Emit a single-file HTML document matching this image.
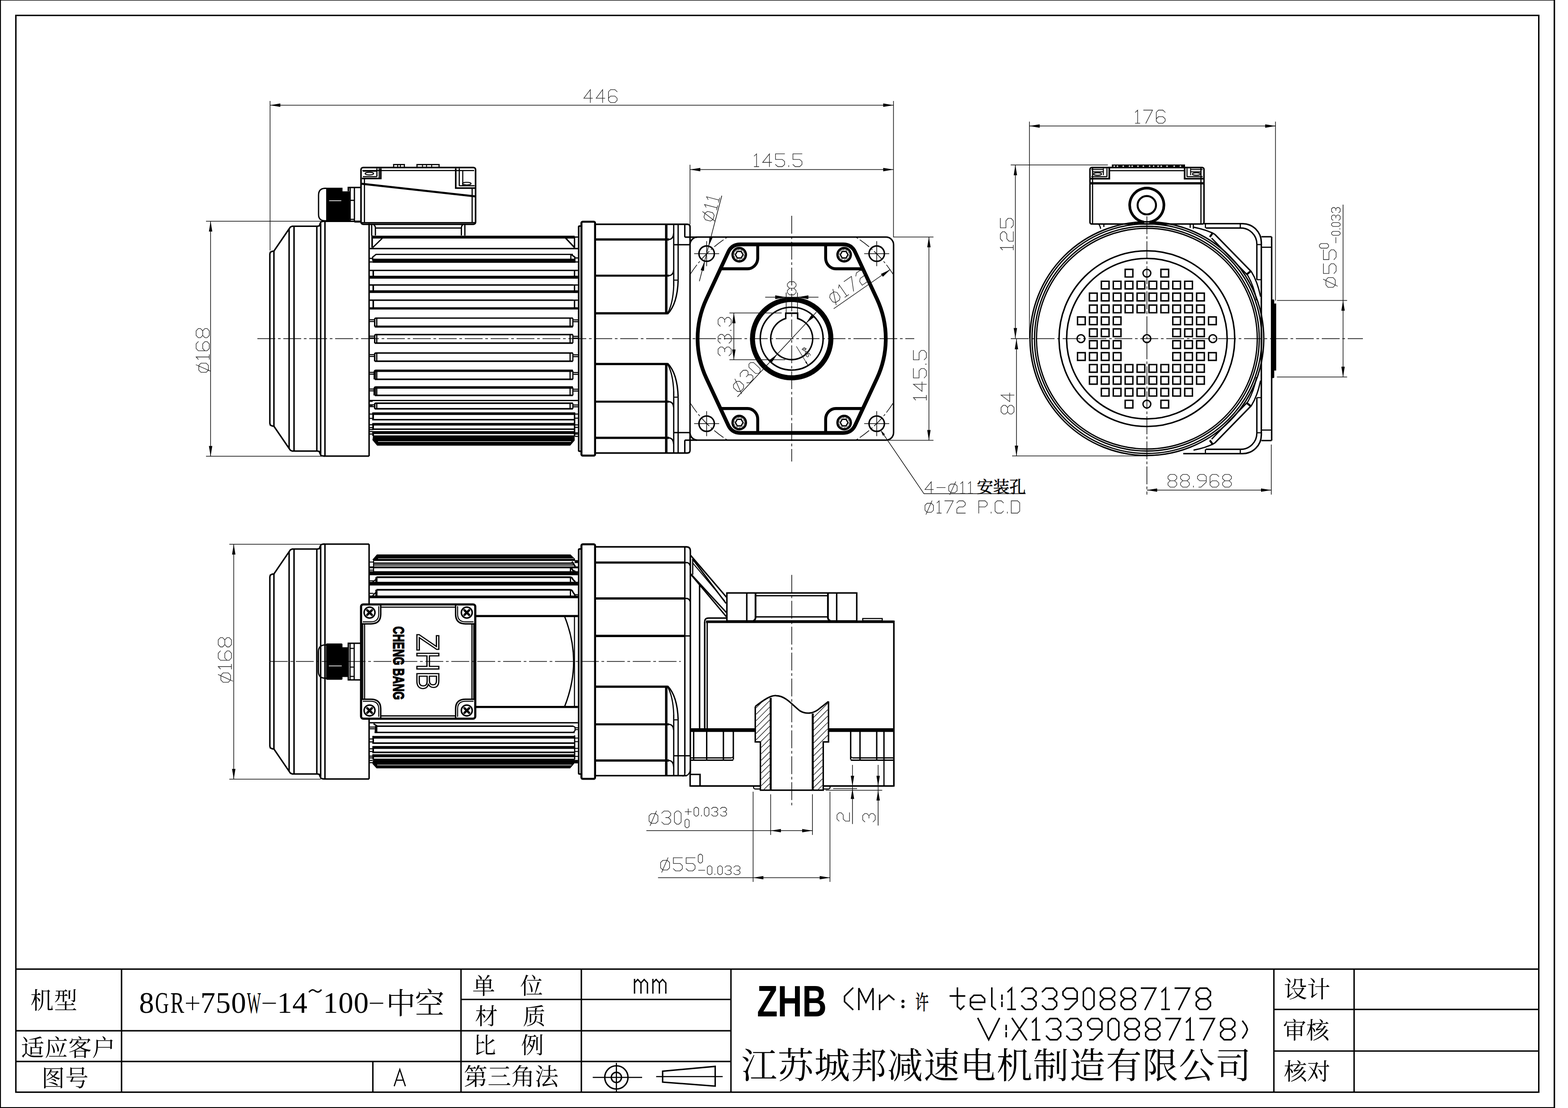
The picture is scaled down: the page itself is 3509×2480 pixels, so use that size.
<!DOCTYPE html><html><head><meta charset="utf-8"><title>drawing</title><style>html,body{margin:0;padding:0;background:#fff}svg{display:block}</style></head><body><svg width="3509" height="2480" viewBox="0 0 3509 2480" fill="none"><rect width="3509" height="2480" fill="#fff"/>
<path d="M1.0 0.0L1.0 2480.0" stroke="#000" stroke-width="2.2" />
<path d="M0.0 0.6L3480.0 0.6" stroke="#000" stroke-width="1.4" />
<path d="M3478.5 0.0L3478.5 2480.0" stroke="#000" stroke-width="3.3" />
<path d="M0.0 2479.0L3480.0 2479.0" stroke="#000" stroke-width="2.2" />
<rect x="35.5" y="34.5" width="3408.1" height="2410.1" rx="0" stroke="#000" stroke-width="3.19" fill="none" />
<path d="M35.5 2169.2L3443.6 2169.2" stroke="#000" stroke-width="3.19" />
<path d="M35.5 2307.2L1635.8 2307.2" stroke="#000" stroke-width="3.19" />
<path d="M35.5 2375.8L1635.8 2375.8" stroke="#000" stroke-width="3.19" />
<path d="M1031.7 2237.0L1635.8 2237.0" stroke="#000" stroke-width="3.19" />
<path d="M2850.8 2259.4L3443.6 2259.4" stroke="#000" stroke-width="3.19" />
<path d="M2850.8 2352.5L3443.6 2352.5" stroke="#000" stroke-width="3.19" />
<path d="M272.0 2169.2L272.0 2444.6" stroke="#000" stroke-width="3.19" />
<path d="M834.4 2375.8L834.4 2444.6" stroke="#000" stroke-width="3.19" />
<path d="M1031.7 2169.2L1031.7 2444.6" stroke="#000" stroke-width="3.19" />
<path d="M1301.0 2169.2L1301.0 2444.6" stroke="#000" stroke-width="3.19" />
<path d="M1635.8 2169.2L1635.8 2444.6" stroke="#000" stroke-width="3.19" />
<path d="M2850.8 2169.2L2850.8 2444.6" stroke="#000" stroke-width="3.19" />
<path d="M3030.3 2169.2L3030.3 2444.6" stroke="#000" stroke-width="3.19" />
<text fill="#000" x="68" y="2258.1" font-size="52" letter-spacing="1" font-family="Liberation Serif,Noto Serif CJK SC,serif">机型</text>
<text fill="#000" x="47" y="2364.1" font-size="52" letter-spacing="1" font-family="Liberation Serif,Noto Serif CJK SC,serif">适应客户</text>
<text fill="#000" x="93" y="2432.1" font-size="52" letter-spacing="1" font-family="Liberation Serif,Noto Serif CJK SC,serif">图号</text>
<text fill="#000" x="1057" y="2225.2" font-size="51" font-family="Liberation Serif,Noto Serif CJK SC,serif">单</text>
<text fill="#000" x="1164" y="2225.2" font-size="51" font-family="Liberation Serif,Noto Serif CJK SC,serif">位</text>
<text fill="#000" x="1063" y="2293.2" font-size="51" font-family="Liberation Serif,Noto Serif CJK SC,serif">材</text>
<text fill="#000" x="1170" y="2293.2" font-size="51" font-family="Liberation Serif,Noto Serif CJK SC,serif">质</text>
<text fill="#000" x="1059" y="2358.2" font-size="51" font-family="Liberation Serif,Noto Serif CJK SC,serif">比</text>
<text fill="#000" x="1166" y="2358.2" font-size="51" font-family="Liberation Serif,Noto Serif CJK SC,serif">例</text>
<text fill="#000" x="1038" y="2429" font-size="53" font-family="Liberation Serif,Noto Serif CJK SC,serif">第三角法</text>
<text fill="#000" x="2873" y="2233.1" font-size="52" font-family="Liberation Serif,Noto Serif CJK SC,serif">设计</text>
<text fill="#000" x="2871" y="2325.1" font-size="52" font-family="Liberation Serif,Noto Serif CJK SC,serif">审核</text>
<text fill="#000" x="2873" y="2417.1" font-size="52" font-family="Liberation Serif,Noto Serif CJK SC,serif">核对</text>
<text fill="#000" x="864" y="2269.1" font-size="66" letter-spacing="-1.5" font-family="Liberation Serif,Noto Serif CJK SC,serif">中空</text>
<text fill="#000" x="1659" y="2413" font-size="80" letter-spacing="1.6" font-family="Liberation Serif,Noto Serif CJK SC,serif">江苏城邦减速电机制造有限公司</text>
<text fill="#000" x="328.1" y="2266.5" font-size="67" text-anchor="middle" font-family="Liberation Serif,serif">8</text>
<text fill="#000" x="362.4" y="2266.5" font-size="67" text-anchor="middle" font-family="Liberation Serif,serif" textLength="31" lengthAdjust="spacingAndGlyphs">G</text>
<text fill="#000" x="396.8" y="2266.5" font-size="67" text-anchor="middle" font-family="Liberation Serif,serif" textLength="31" lengthAdjust="spacingAndGlyphs">R</text>
<path d="M416.0 2245.5L446.0 2245.5" stroke="#000" stroke-width="2.42" />
<path d="M431.0 2230.0L431.0 2261.0" stroke="#000" stroke-width="2.42" />
<text fill="#000" x="465.3" y="2266.5" font-size="67" text-anchor="middle" font-family="Liberation Serif,serif">7</text>
<text fill="#000" x="499.6" y="2266.5" font-size="67" text-anchor="middle" font-family="Liberation Serif,serif">5</text>
<text fill="#000" x="533.9" y="2266.5" font-size="67" text-anchor="middle" font-family="Liberation Serif,serif">0</text>
<text fill="#000" x="568.2" y="2266.5" font-size="67" text-anchor="middle" font-family="Liberation Serif,serif" textLength="31" lengthAdjust="spacingAndGlyphs">W</text>
<path d="M587.5 2245.5L617.5 2245.5" stroke="#000" stroke-width="2.42" />
<text fill="#000" x="636.9" y="2266.5" font-size="67" text-anchor="middle" font-family="Liberation Serif,serif">1</text>
<text fill="#000" x="671.1" y="2266.5" font-size="67" text-anchor="middle" font-family="Liberation Serif,serif">4</text>
<path d="M691.4 2221 q7 -9 14 -3 t14 -3" stroke="#000" stroke-width="3.2" fill="none"/>
<text fill="#000" x="739.7" y="2266.5" font-size="67" text-anchor="middle" font-family="Liberation Serif,serif">1</text>
<text fill="#000" x="774.0" y="2266.5" font-size="67" text-anchor="middle" font-family="Liberation Serif,serif">0</text>
<text fill="#000" x="808.3" y="2266.5" font-size="67" text-anchor="middle" font-family="Liberation Serif,serif">0</text>
<path d="M827.6 2245.5L857.6 2245.5" stroke="#000" stroke-width="2.42" />
<text fill="#000" x="1694" y="2274.5" font-size="99" font-weight="bold" font-family="Liberation Sans,sans-serif" textLength="156" lengthAdjust="spacingAndGlyphs">ZHB</text>
<path transform="translate(882.5 2430.0)" d="M0.0 0.0L12.2 -36.5L24.3 0.0M4.3 -12.2L20.1 -12.2" stroke="#000" stroke-width="2.6" fill="none" stroke-linecap="square" stroke-linejoin="miter"/>
<path transform="translate(1420.0 2222.5)" d="M0.0 0.0L0.0 -30.0M0.0 -22.5L7.2 -30.0L14.4 -22.5L14.4 0.0M14.4 -22.5L21.6 -30.0L28.9 -22.5L28.9 0.0M41.1 0.0L41.1 -30.0M41.1 -22.5L48.4 -30.0L55.6 -22.5L55.6 0.0M55.6 -22.5L62.8 -30.0L70.0 -22.5L70.0 0.0" stroke="#000" stroke-width="3" fill="none" stroke-linecap="square" stroke-linejoin="miter"/>
<path transform="translate(0 2259.3)" d="M1908.2 -47.5L1890.0 -29.3L1890.0 -17.4L1908.2 0.0M1922.0 0.0L1922.0 -47.5L1937.8 -15.8L1953.7 -47.5L1953.7 0.0M1968.5 0.0L1968.5 -31.7M1968.5 -13.5L1989.1 -31.7L2000.2 -22.2M2142.6 -47.5L2142.6 -6.3L2149.8 0.0L2156.9 -7.1M2126.8 -30.1L2158.5 -30.1M2171.8 -15.8L2203.5 -15.8L2203.5 -23.8L2195.6 -31.7L2179.7 -31.7L2171.8 -23.8L2171.8 -7.9L2179.7 0.0L2197.1 0.0M2219.6 -47.5L2219.6 -7.1L2227.5 0.0M2242.2 -7.1L2242.2 -15.8M2242.2 -23.0L2242.2 -31.7M2255.9 -39.6L2263.8 -47.5L2263.8 0.0M2255.9 0.0L2271.7 0.0M2286.8 -39.6L2294.7 -47.5L2310.6 -47.5L2318.5 -39.6L2318.5 -31.7L2310.6 -23.8L2318.5 -15.8L2318.5 -7.9L2310.6 0.0L2294.7 0.0L2286.8 -7.9M2301.1 -23.8L2310.6 -23.8M2333.0 -39.6L2340.9 -47.5L2356.8 -47.5L2364.7 -39.6L2364.7 -31.7L2356.8 -23.8L2364.7 -15.8L2364.7 -7.9L2356.8 0.0L2340.9 0.0L2333.0 -7.9M2347.2 -23.8L2356.8 -23.8M2383.6 0.0L2391.5 0.0L2410.5 -19.0L2410.5 -39.6L2402.6 -47.5L2386.7 -47.5L2378.8 -39.6L2378.8 -31.7L2386.7 -23.8L2410.5 -23.8M2432.4 0.0L2440.3 0.0L2448.2 -7.9L2448.2 -39.6L2440.3 -47.5L2432.4 -47.5L2424.5 -39.6L2424.5 -7.9L2432.4 0.0M2470.5 -23.8L2462.6 -31.7L2462.6 -39.6L2470.5 -47.5L2486.3 -47.5L2494.3 -39.6L2494.3 -31.7L2486.3 -23.8L2470.5 -23.8L2462.6 -15.8L2462.6 -7.9L2470.5 0.0L2486.3 0.0L2494.3 -7.9L2494.3 -15.8L2486.3 -23.8M2516.9 -23.8L2509.0 -31.7L2509.0 -39.6L2516.9 -47.5L2532.8 -47.5L2540.7 -39.6L2540.7 -31.7L2532.8 -23.8L2516.9 -23.8L2509.0 -15.8L2509.0 -7.9L2516.9 0.0L2532.8 0.0L2540.7 -7.9L2540.7 -15.8L2532.8 -23.8M2554.8 -47.5L2586.5 -47.5L2562.7 0.0M2600.5 -39.6L2608.4 -47.5L2608.4 0.0M2600.5 0.0L2616.3 0.0M2630.3 -47.5L2662.0 -47.5L2638.2 0.0M2685.0 -23.8L2677.1 -31.7L2677.1 -39.6L2685.0 -47.5L2700.8 -47.5L2708.8 -39.6L2708.8 -31.7L2700.8 -23.8L2685.0 -23.8L2677.1 -15.8L2677.1 -7.9L2685.0 0.0L2700.8 0.0L2708.8 -7.9L2708.8 -15.8L2700.8 -23.8" stroke="#000" stroke-width="3.4" fill="none" stroke-linecap="square"/>
<circle cx="2020.7" cy="2241.2" r="3.4" stroke="#000" stroke-width="0" fill="#000" />
<circle cx="2020.7" cy="2253.2" r="3.4" stroke="#000" stroke-width="0" fill="#000" />
<text transform="translate(2048.5 2260.0) scale(0.66 1)" x="0" y="0" font-size="45" fill="#000" stroke="#000" stroke-width="0.8" font-family="Liberation Serif,Noto Serif CJK SC,serif">许</text>
<path transform="translate(0 2327.2)" d="M2188.8 -47.5L2212.6 0.0L2236.3 -47.5M2251.7 -7.1L2251.7 -15.8M2251.7 -23.0L2251.7 -31.7M2265.5 0.0L2297.2 -47.5M2265.5 -47.5L2297.2 0.0M2310.8 -39.6L2318.7 -47.5L2318.7 0.0M2310.8 0.0L2326.6 0.0M2342.0 -39.6L2349.9 -47.5L2365.8 -47.5L2373.7 -39.6L2373.7 -31.7L2365.8 -23.8L2373.7 -15.8L2373.7 -7.9L2365.8 0.0L2349.9 0.0L2342.0 -7.9M2356.2 -23.8L2365.8 -23.8M2387.5 -39.6L2395.4 -47.5L2411.2 -47.5L2419.2 -39.6L2419.2 -31.7L2411.2 -23.8L2419.2 -15.8L2419.2 -7.9L2411.2 0.0L2395.4 0.0L2387.5 -7.9M2401.8 -23.8L2411.2 -23.8M2439.1 0.0L2447.0 0.0L2466.0 -19.0L2466.0 -39.6L2458.1 -47.5L2442.2 -47.5L2434.3 -39.6L2434.3 -31.7L2442.2 -23.8L2466.0 -23.8M2487.9 0.0L2495.8 0.0L2503.8 -7.9L2503.8 -39.6L2495.8 -47.5L2487.9 -47.5L2480.0 -39.6L2480.0 -7.9L2487.9 0.0M2525.6 -23.8L2517.7 -31.7L2517.7 -39.6L2525.6 -47.5L2541.4 -47.5L2549.4 -39.6L2549.4 -31.7L2541.4 -23.8L2525.6 -23.8L2517.7 -15.8L2517.7 -7.9L2525.6 0.0L2541.4 0.0L2549.4 -7.9L2549.4 -15.8L2541.4 -23.8M2571.8 -23.8L2563.9 -31.7L2563.9 -39.6L2571.8 -47.5L2587.7 -47.5L2595.6 -39.6L2595.6 -31.7L2587.7 -23.8L2571.8 -23.8L2563.9 -15.8L2563.9 -7.9L2571.8 0.0L2587.7 0.0L2595.6 -7.9L2595.6 -15.8L2587.7 -23.8M2609.6 -47.5L2641.3 -47.5L2617.5 0.0M2655.4 -39.6L2663.3 -47.5L2663.3 0.0M2655.4 0.0L2671.2 0.0M2685.9 -47.5L2717.6 -47.5L2693.8 0.0M2739.5 -23.8L2731.6 -31.7L2731.6 -39.6L2739.5 -47.5L2755.3 -47.5L2763.3 -39.6L2763.3 -31.7L2755.3 -23.8L2739.5 -23.8L2731.6 -15.8L2731.6 -7.9L2739.5 0.0L2755.3 0.0L2763.3 -7.9L2763.3 -15.8L2755.3 -23.8M2781.2 -41.2L2788.3 -31.7L2791.5 -23.0L2788.3 -14.2L2781.2 -4.0" stroke="#000" stroke-width="3.4" fill="none" stroke-linecap="square"/>
<circle cx="1379.4" cy="2411.5" r="26.0" stroke="#000" stroke-width="3.19" fill="none" />
<circle cx="1379.4" cy="2411.5" r="11.4" stroke="#000" stroke-width="3.19" fill="none" />
<path d="M1326.5 2411.5L1437.0 2411.5" stroke="#000" stroke-width="2.64" />
<path d="M1379.4 2379.0L1379.4 2444.0" stroke="#000" stroke-width="2.64" />
<path d="M1482.9 2397.7L1600.5 2386.8L1600.5 2431.0L1482.9 2422.0Z" stroke="#000" stroke-width="3.19" fill="none" />
<path d="M1468.4 2409.8L1617.3 2409.8" stroke="#000" stroke-width="2.42" />
<path d="M603.9 758.0L603.9 568.5L605.0 564.5L609.0 562.6L613.0 562.0L647.5 511.5L650.0 508.0L654.0 506.3L710.3 506.3L714.5 505.5L716.5 500.0L718.5 496.5L722.5 495.3L727.2 495.3" stroke="#000" stroke-width="3.3" fill="none" />
<path d="M727.2 1020.7L722.5 1020.7L718.5 1019.5L716.5 1016.0L714.5 1010.5L710.3 1009.7L654.0 1009.7L650.0 1008.0L647.5 1004.5L613.0 954.0L609.0 953.4L605.0 951.5L603.9 947.5L603.9 758.0" stroke="#000" stroke-width="3.3" fill="none" />
<path d="M613.0 562.0L613.0 954.0" stroke="#000" stroke-width="3.3" />
<path d="M647.0 513.0L647.0 1003.0" stroke="#000" stroke-width="3.3" />
<path d="M658.0 506.3L658.0 1009.7" stroke="#000" stroke-width="3.3" />
<path d="M709.0 506.3L709.0 1009.7" stroke="#000" stroke-width="3.3" />
<path d="M717.6 499.0L717.6 1017.0" stroke="#000" stroke-width="3.3" />
<path d="M727.2 495.3L727.2 1020.7" stroke="#000" stroke-width="3.3" />
<path d="M727.2 495.4L809.0 495.4" stroke="#000" stroke-width="3.3" />
<path d="M724.0 1020.9L826.0 1020.9" stroke="#000" stroke-width="3.3" />
<path d="M826.0 500.0L826.0 1021.0" stroke="#000" stroke-width="3.3" />
<path d="M730 421.5L727 421.5Q712.9 422 712.9 437L712.9 480Q712.9 494 727 494.3L730 494.3" stroke="#000" stroke-width="2.86" fill="none" />
<rect x="729.9" y="420.2" width="36.6" height="74.8" rx="0" stroke="#000" stroke-width="0" fill="#000" />
<rect x="766.0" y="428.3" width="16.5" height="66.6" rx="0" stroke="#000" stroke-width="0" fill="#000" />
<path d="M736.5 449.3L763.8 449.3" stroke="#fff" stroke-width="1.6" />
<path d="M779.5 428.0L779.5 419.7L808.0 419.7" stroke="#000" stroke-width="3.3" fill="none" />
<path d="M783.6 419.7L783.6 494.0" stroke="#000" stroke-width="2.86" />
<path d="M793.1 419.7L793.1 497.0" stroke="#000" stroke-width="2.86" />
<path d="M783.6 448.4L793.1 448.4" stroke="#000" stroke-width="2.64" />
<path d="M783.6 491.0L793.1 491.0" stroke="#000" stroke-width="2.64" />
<path d="M793.1 496.8L808.0 496.8" stroke="#000" stroke-width="2.86" />
<rect x="807.9" y="374.9" width="256.4" height="127.1" rx="5" stroke="#000" stroke-width="3.52" fill="none" />
<path d="M811.0 381.8L1061.0 381.8" stroke="#000" stroke-width="2.64" />
<path d="M815.6 399.0L815.6 498.6" stroke="#000" stroke-width="2.64" />
<path d="M1056.6 421.0L1056.6 498.6" stroke="#000" stroke-width="2.64" />
<path d="M809.0 498.4L1063.0 498.4" stroke="#000" stroke-width="2.86" />
<rect x="880.9" y="368.3" width="24.0" height="6.5" rx="0" stroke="#000" stroke-width="2.64" fill="none" />
<path d="M890.0 368.3L890.0 374.8" stroke="#000" stroke-width="2.2" />
<path d="M896.0 368.3L896.0 374.8" stroke="#000" stroke-width="2.2" />
<rect x="933.2" y="368.3" width="49.4" height="6.5" rx="0" stroke="#000" stroke-width="2.64" fill="none" />
<path d="M945.5 368.3L945.5 374.8" stroke="#000" stroke-width="2.2" />
<path d="M954.5 368.3L954.5 374.8" stroke="#000" stroke-width="2.2" />
<path d="M966.0 368.3L966.0 374.8" stroke="#000" stroke-width="2.2" />
<path d="M809.0 411.3L1063.0 439.5" stroke="#000" stroke-width="4.62" />
<path d="M852.2 377.0L852.2 399.6L810.0 399.6" stroke="#000" stroke-width="3.52" fill="none" />
<path d="M843.5 377.0L843.5 395.4" stroke="#000" stroke-width="2.64" />
<path d="M848.6 377.0L848.6 399.0" stroke="#000" stroke-width="2.42" />
<path d="M812.0 395.4L843.5 395.4" stroke="#000" stroke-width="2.42" />
<path d="M812.0 383.3L843.5 383.3" stroke="#000" stroke-width="2.2" />
<ellipse cx="826.6" cy="388.6" rx="9.5" ry="3" fill="none" stroke="#000" stroke-width="2.2"/>
<path d="M1019.9 377.0L1019.9 421.0L1063.0 421.0" stroke="#000" stroke-width="3.52" fill="none" />
<path d="M1027.8 377.0L1027.8 416.0" stroke="#000" stroke-width="2.64" />
<path d="M1035.6 382.0L1035.6 416.0" stroke="#000" stroke-width="2.42" />
<path d="M1027.8 415.8L1062.0 415.8" stroke="#000" stroke-width="2.42" />
<ellipse cx="1044.7" cy="411" rx="9.5" ry="3" fill="none" stroke="#000" stroke-width="2.2"/>
<path d="M831.8 502L831.8 527.6M1040.3 502L1040.3 527.6M836 503Q840 505 840.1 510L840.1 527M1036 503Q1032.6 505 1032.5 510L1032.5 527M840 510.4L1032.5 510.4" stroke="#000" stroke-width="2.86" fill="none" />
<rect x="831.8" y="527.6" width="454.2" height="6.3" rx="0" stroke="#000" stroke-width="0" fill="#000" />
<path d="M832.8 527.0L832.8 554.5" stroke="#000" stroke-width="3.52" />
<path d="M834.0 554.3L855.3 533.4" stroke="#000" stroke-width="2.86" />
<path d="M1265.9 533.0L1286.0 554.3" stroke="#000" stroke-width="3.3" />
<path d="M1285.7 530.0L1285.7 556.4" stroke="#000" stroke-width="3.08" />
<path d="M1285.0 530.6L1293.5 530.6" stroke="#000" stroke-width="2.86" />
<path d="M826.0 556.4L1294.0 556.4" stroke="#000" stroke-width="3.08" />
<path d="M1282.0 569.4L841.5 569.4L834.0 575.4L834.0 583.7" stroke="#000" stroke-width="2.86" fill="none" />
<path d="M834.0 583.7L1282.0 583.7" stroke="#000" stroke-width="9.2" />
<path d="M827.0 578.3L834.0 578.3" stroke="#000" stroke-width="2.64" />
<path d="M827.0 586.3L834.0 586.3" stroke="#000" stroke-width="2.64" />
<path d="M827.0 605.2L1282.0 605.2" stroke="#000" stroke-width="3.08" />
<path d="M827.0 620.5L1282.0 620.5" stroke="#000" stroke-width="6.6" />
<path d="M835.3 605.2L835.3 620.5" stroke="#000" stroke-width="3.52" />
<path d="M827.0 637.9L1282.0 637.9" stroke="#000" stroke-width="3.08" />
<path d="M827.0 652.8L1282.0 652.8" stroke="#000" stroke-width="6.05" />
<path d="M835.3 637.9L835.3 652.8" stroke="#000" stroke-width="3.52" />
<path d="M827.0 671.9L1282.0 671.9" stroke="#000" stroke-width="3.08" />
<path d="M827.0 690.2L1282.0 690.2" stroke="#000" stroke-width="4.95" />
<path d="M835.3 671.9L835.3 690.2" stroke="#000" stroke-width="3.52" />
<path d="M1282 712L841.5 712Q838.5 712 838.5 715L838.5 731" stroke="#000" stroke-width="3.08" fill="none" />
<path d="M838.5 731.0L1282.0 731.0" stroke="#000" stroke-width="4.62" />
<path d="M843.1 712.0L843.1 731.0" stroke="#000" stroke-width="2.86" />
<path d="M827.0 715.6L838.5 715.6" stroke="#000" stroke-width="2.42" />
<path d="M827.0 719.6L838.5 719.6" stroke="#000" stroke-width="2.42" />
<path d="M1282 748.9L841.5 748.9Q838.5 748.9 838.5 751.9L838.5 767.9" stroke="#000" stroke-width="3.08" fill="none" />
<path d="M838.5 767.9L1282.0 767.9" stroke="#000" stroke-width="3.52" />
<path d="M843.1 748.9L843.1 767.9" stroke="#000" stroke-width="2.86" />
<path d="M827.0 752.5L838.5 752.5" stroke="#000" stroke-width="2.42" />
<path d="M827.0 756.5L838.5 756.5" stroke="#000" stroke-width="2.42" />
<path d="M1282 790.2L841.5 790.2Q838.5 790.2 838.5 793.2L838.5 808.4" stroke="#000" stroke-width="3.3" fill="none" />
<path d="M838.5 808.4L1282.0 808.4" stroke="#000" stroke-width="3.52" />
<path d="M843.1 790.2L843.1 808.4" stroke="#000" stroke-width="2.86" />
<path d="M827.0 793.8L838.5 793.8" stroke="#000" stroke-width="2.42" />
<path d="M827.0 797.8L838.5 797.8" stroke="#000" stroke-width="2.42" />
<path d="M1282 829.9L841.5 829.9Q838.5 829.9 838.5 832.9L838.5 849" stroke="#000" stroke-width="5.06" fill="none" />
<path d="M838.5 849.0L1282.0 849.0" stroke="#000" stroke-width="3.52" />
<path d="M843.1 829.9L843.1 849.0" stroke="#000" stroke-width="2.86" />
<path d="M827.0 833.5L838.5 833.5" stroke="#000" stroke-width="2.42" />
<path d="M827.0 837.5L838.5 837.5" stroke="#000" stroke-width="2.42" />
<path d="M1282 867.2L841.5 867.2Q838.5 867.2 838.5 870.2L838.5 885" stroke="#000" stroke-width="5.5" fill="none" />
<path d="M838.5 885.0L1282.0 885.0" stroke="#000" stroke-width="3.52" />
<path d="M843.1 867.2L843.1 885.0" stroke="#000" stroke-width="2.86" />
<path d="M827.0 870.8L838.5 870.8" stroke="#000" stroke-width="2.42" />
<path d="M827.0 874.8L838.5 874.8" stroke="#000" stroke-width="2.42" />
<path d="M1282 902.5L841.5 902.5Q838.5 902.5 838.5 905.5L838.5 915" stroke="#000" stroke-width="3.3" fill="none" />
<path d="M838.5 915.0L1282.0 915.0" stroke="#000" stroke-width="3.52" />
<path d="M843.1 902.5L843.1 915.0" stroke="#000" stroke-width="2.86" />
<path d="M827.0 906.1L838.5 906.1" stroke="#000" stroke-width="2.42" />
<path d="M827.0 910.1L838.5 910.1" stroke="#000" stroke-width="2.42" />
<path d="M826.0 896.4L1293.5 896.4" stroke="#000" stroke-width="2.75" />
<path d="M833.4 925.8L1286.0 925.8" stroke="#000" stroke-width="5.83" />
<path d="M833.4 939.4L1286.0 939.4" stroke="#000" stroke-width="3.19" />
<path d="M833.4 949.7L1286.0 949.7" stroke="#000" stroke-width="5.83" />
<path d="M833.4 960.7L1286.0 960.7" stroke="#000" stroke-width="3.19" />
<path d="M833.4 968.2L1286.0 968.2" stroke="#000" stroke-width="6.49" />
<path d="M835.0 974.4L1286.0 974.4L1286.0 986.0L1276.0 997.6L844.0 997.6L833.4 985.0Z" stroke="#000" stroke-width="0" fill="#000" />
<path d="M846.0 988.3L1278.0 988.3" stroke="#fff" stroke-width="1.3" />
<path d="M1278.0 569.4L1286.3 575.4L1286.3 587.7" stroke="#000" stroke-width="3.08" fill="none" />
<path d="M1277.5 569.4L1277.5 580.7" stroke="#000" stroke-width="2.64" />
<path d="M1282.0 583.7L1287.5 583.7" stroke="#000" stroke-width="9.2" />
<path d="M1286.0 577.4L1293.5 577.4" stroke="#000" stroke-width="2.64" />
<path d="M1286.0 586.3L1293.5 586.3" stroke="#000" stroke-width="2.64" />
<path d="M1285.7 605.2L1285.7 620.5" stroke="#000" stroke-width="3.08" />
<path d="M1282.0 605.2L1293.0 605.2" stroke="#000" stroke-width="2.86" />
<path d="M1282.0 620.5L1293.0 620.5" stroke="#000" stroke-width="6.6" />
<path d="M1285.7 637.9L1285.7 652.8" stroke="#000" stroke-width="3.08" />
<path d="M1282.0 637.9L1293.0 637.9" stroke="#000" stroke-width="2.86" />
<path d="M1282.0 652.8L1293.0 652.8" stroke="#000" stroke-width="6.05" />
<path d="M1285.7 671.9L1285.7 690.2" stroke="#000" stroke-width="3.08" />
<path d="M1282.0 671.9L1293.0 671.9" stroke="#000" stroke-width="2.86" />
<path d="M1282.0 690.2L1293.0 690.2" stroke="#000" stroke-width="4.95" />
<path d="M1275.8 712.0L1275.8 731.0" stroke="#000" stroke-width="2.64" />
<path d="M1282.0 712.0L1282.0 731.0" stroke="#000" stroke-width="2.64" />
<path d="M1282.0 716.0L1294.0 716.0" stroke="#000" stroke-width="2.42" />
<path d="M1282.0 720.0L1294.0 720.0" stroke="#000" stroke-width="2.42" />
<path d="M1275.8 748.9L1275.8 767.9" stroke="#000" stroke-width="2.64" />
<path d="M1282.0 748.9L1282.0 767.9" stroke="#000" stroke-width="2.64" />
<path d="M1282.0 752.9L1294.0 752.9" stroke="#000" stroke-width="2.42" />
<path d="M1282.0 756.9L1294.0 756.9" stroke="#000" stroke-width="2.42" />
<path d="M1275.8 790.2L1275.8 808.4" stroke="#000" stroke-width="2.64" />
<path d="M1282.0 790.2L1282.0 808.4" stroke="#000" stroke-width="2.64" />
<path d="M1282.0 794.2L1294.0 794.2" stroke="#000" stroke-width="2.42" />
<path d="M1282.0 798.2L1294.0 798.2" stroke="#000" stroke-width="2.42" />
<path d="M1275.8 829.9L1275.8 849.0" stroke="#000" stroke-width="2.64" />
<path d="M1282.0 829.9L1282.0 849.0" stroke="#000" stroke-width="2.64" />
<path d="M1282.0 833.9L1294.0 833.9" stroke="#000" stroke-width="2.42" />
<path d="M1282.0 837.9L1294.0 837.9" stroke="#000" stroke-width="2.42" />
<path d="M1275.8 867.2L1275.8 885.0" stroke="#000" stroke-width="2.64" />
<path d="M1282.0 867.2L1282.0 885.0" stroke="#000" stroke-width="2.64" />
<path d="M1282.0 871.2L1294.0 871.2" stroke="#000" stroke-width="2.42" />
<path d="M1282.0 875.2L1294.0 875.2" stroke="#000" stroke-width="2.42" />
<path d="M1275.8 902.5L1275.8 915.0" stroke="#000" stroke-width="2.64" />
<path d="M1282.0 902.5L1282.0 915.0" stroke="#000" stroke-width="2.64" />
<path d="M1282.0 906.5L1294.0 906.5" stroke="#000" stroke-width="2.42" />
<path d="M1282.0 910.5L1294.0 910.5" stroke="#000" stroke-width="2.42" />
<path d="M1285.8 923.0L1285.8 977.0" stroke="#000" stroke-width="3.3" />
<path d="M1287.0 926.8L1293.5 926.8" stroke="#000" stroke-width="2.42" />
<path d="M1287.0 936.0L1293.5 936.0" stroke="#000" stroke-width="2.42" />
<path d="M1287.0 951.0L1293.5 951.0" stroke="#000" stroke-width="2.42" />
<path d="M1287.0 956.6L1293.5 956.6" stroke="#000" stroke-width="2.42" />
<path d="M1287.0 968.7L1293.5 968.7" stroke="#000" stroke-width="2.42" />
<path d="M1287.0 971.5L1293.5 971.5" stroke="#000" stroke-width="2.42" />
<path d="M1287.0 976.8L1293.5 976.8" stroke="#000" stroke-width="2.42" />
<path d="M827.0 898.3L834.0 898.3" stroke="#000" stroke-width="2.42" />
<path d="M827.0 907.4L834.0 907.4" stroke="#000" stroke-width="2.42" />
<path d="M827.0 926.8L834.0 926.8" stroke="#000" stroke-width="2.42" />
<path d="M827.0 936.5L834.0 936.5" stroke="#000" stroke-width="2.42" />
<path d="M827.0 950.7L834.0 950.7" stroke="#000" stroke-width="2.42" />
<path d="M827.0 957.2L834.0 957.2" stroke="#000" stroke-width="2.42" />
<path d="M827.0 961.5L834.0 961.5" stroke="#000" stroke-width="2.42" />
<path d="M827.0 966.0L834.0 966.0" stroke="#000" stroke-width="2.42" />
<path d="M827.0 971.5L834.0 971.5" stroke="#000" stroke-width="2.42" />
<path d="M835.0 923.0L835.0 941.0" stroke="#000" stroke-width="3.74" />
<path d="M835.0 947.0L835.0 962.4" stroke="#000" stroke-width="3.74" />
<path d="M835.0 965.0L835.0 976.0" stroke="#000" stroke-width="3.74" />
<path d="M1300 506L1297 506Q1295 506 1295 508L1295 1008Q1295 1010 1297 1010L1300 1010" stroke="#000" stroke-width="3.63" fill="none" />
<rect x="1301.2" y="496.3" width="30.5" height="523.4" rx="3" stroke="#000" stroke-width="4.51" fill="none" />
<path d="M1333.0 502.0L1538.0 502.0" stroke="#000" stroke-width="3.3" />
<path d="M1538 502Q1544.2 502 1544.2 508L1544.2 546" stroke="#000" stroke-width="3.3" fill="none" />
<path d="M1333.0 536.0L1497.0 536.0" stroke="#000" stroke-width="5.06" />
<path d="M1333.0 617.0L1497.0 617.0" stroke="#000" stroke-width="4.62" />
<path d="M1333.0 701.2L1494.0 701.2" stroke="#000" stroke-width="5.06" />
<path d="M1491.0 502.0L1491.0 702.0" stroke="#000" stroke-width="5.5" />
<path d="M1507.7 502.0L1507.7 640.0" stroke="#000" stroke-width="2.86" />
<path d="M1517.6 502.0L1517.6 627.5" stroke="#000" stroke-width="2.86" />
<path d="M1517.6 627.5Q1516 680 1494 703" stroke="#000" stroke-width="3.08" fill="none" />
<path d="M1507.7 640Q1506 680 1494 701" stroke="#000" stroke-width="2.64" fill="none" />
<path d="M1497 536Q1507 535 1507.5 522" stroke="#000" stroke-width="2.86" fill="none" />
<path d="M1497 617Q1507 616 1507.5 604" stroke="#000" stroke-width="2.86" fill="none" />
<path d="M1507.7 547.7L1544.2 547.7" stroke="#000" stroke-width="2.86" />
<path d="M1532.5 502.0L1532.5 530.8" stroke="#000" stroke-width="3.08" />
<path d="M1532.5 530.8L1560.0 530.8" stroke="#000" stroke-width="3.3" />
<path d="M1507.7 627.0L1517.6 627.0" stroke="#000" stroke-width="2.42" />
<path d="M1333.0 1014.0L1538.0 1014.0" stroke="#000" stroke-width="3.3" />
<path d="M1538 1014.0Q1544.2 1014.0 1544.2 1008.0L1544.2 970.0" stroke="#000" stroke-width="3.3" fill="none" />
<path d="M1333.0 980.0L1497.0 980.0" stroke="#000" stroke-width="5.06" />
<path d="M1333.0 899.0L1497.0 899.0" stroke="#000" stroke-width="4.62" />
<path d="M1333.0 814.8L1494.0 814.8" stroke="#000" stroke-width="5.06" />
<path d="M1491.0 1014.0L1491.0 814.0" stroke="#000" stroke-width="5.5" />
<path d="M1507.7 1014.0L1507.7 876.0" stroke="#000" stroke-width="2.86" />
<path d="M1517.6 1014.0L1517.6 888.5" stroke="#000" stroke-width="2.86" />
<path d="M1517.6 888.5Q1516 836.0 1494 813.0" stroke="#000" stroke-width="3.08" fill="none" />
<path d="M1507.7 876.0Q1506 836.0 1494 815.0" stroke="#000" stroke-width="2.64" fill="none" />
<path d="M1497 980.0Q1507 981.0 1507.5 994.0" stroke="#000" stroke-width="2.86" fill="none" />
<path d="M1497 899.0Q1507 900.0 1507.5 912.0" stroke="#000" stroke-width="2.86" fill="none" />
<path d="M1507.7 968.3L1544.2 968.3" stroke="#000" stroke-width="2.86" />
<path d="M1532.5 1014.0L1532.5 985.2" stroke="#000" stroke-width="3.08" />
<path d="M1532.5 985.2L1560.0 985.2" stroke="#000" stroke-width="3.3" />
<path d="M1507.7 889.0L1517.6 889.0" stroke="#000" stroke-width="2.42" />
<rect x="1544.2" y="530.6" width="455.5" height="454.6" rx="17" stroke="#000" stroke-width="3.3" fill="none" />
<circle cx="1581.4" cy="567.7" r="17.2" stroke="#000" stroke-width="3.3" fill="none" />
<path d="M1553.4 567.7L1609.4 567.7" stroke="#000" stroke-width="1.5" />
<path d="M1581.4 539.7L1581.4 595.7" stroke="#000" stroke-width="1.5" />
<path d="M1544.7 613.9A268.9 268.9 0 0 1 1627.6 531.0" stroke="#000" stroke-width="1.5" fill="none" stroke-dasharray="26 5 5 5"/>
<circle cx="1581.4" cy="948.3" r="17.2" stroke="#000" stroke-width="3.3" fill="none" />
<path d="M1553.4 948.3L1609.4 948.3" stroke="#000" stroke-width="1.5" />
<path d="M1581.4 920.3L1581.4 976.3" stroke="#000" stroke-width="1.5" />
<path d="M1544.7 902.1A268.9 268.9 0 0 0 1627.6 985.0" stroke="#000" stroke-width="1.5" fill="none" stroke-dasharray="26 5 5 5"/>
<circle cx="1962.0" cy="567.7" r="17.2" stroke="#000" stroke-width="3.3" fill="none" />
<path d="M1934.0 567.7L1990.0 567.7" stroke="#000" stroke-width="1.5" />
<path d="M1962.0 539.7L1962.0 595.7" stroke="#000" stroke-width="1.5" />
<path d="M1998.7 613.9A268.9 268.9 0 0 0 1915.8 531.0" stroke="#000" stroke-width="1.5" fill="none" stroke-dasharray="26 5 5 5"/>
<circle cx="1962.0" cy="948.3" r="17.2" stroke="#000" stroke-width="3.3" fill="none" />
<path d="M1934.0 948.3L1990.0 948.3" stroke="#000" stroke-width="1.5" />
<path d="M1962.0 920.3L1962.0 976.3" stroke="#000" stroke-width="1.5" />
<path d="M1998.7 902.1A268.9 268.9 0 0 1 1915.8 985.0" stroke="#000" stroke-width="1.5" fill="none" stroke-dasharray="26 5 5 5"/>
<path d="M1580.8 669.2L1629.7 564.2Q1637.7 547.0 1656.7 547.0L1886.7 547.0Q1905.7 547.0 1913.7 564.2L1962.6 669.2A210.5 210.5 0 0 1 1962.6 846.8L1913.7 951.8Q1905.7 969.0 1886.7 969.0L1656.7 969.0Q1637.7 969.0 1629.7 951.8L1580.8 846.8A210.5 210.5 0 0 1 1580.8 669.2Z" stroke="#000" stroke-width="8.4" fill="none" />
<path d="M1612.3 601.6L1672.7 601.6A23 24 0 0 0 1695.7 578.0L1695.7 550.0" stroke="#000" stroke-width="6.6" fill="none" />
<circle cx="1654.3" cy="570.1" r="15.0" stroke="#000" stroke-width="5.06" fill="none" />
<circle cx="1654.3" cy="570.1" r="11.3" stroke="#000" stroke-width="1" fill="none" stroke-dasharray="5 2"/>
<path d="M1662.9 570.1L1658.6 577.5L1650.0 577.5L1645.7 570.1L1650.0 562.7L1658.6 562.7Z" stroke="#000" stroke-width="2.86" fill="none" />
<path d="M1612.3 914.4L1672.7 914.4A23 24 0 0 1 1695.7 938.0L1695.7 966.0" stroke="#000" stroke-width="6.6" fill="none" />
<circle cx="1654.3" cy="945.9" r="15.0" stroke="#000" stroke-width="5.06" fill="none" />
<circle cx="1654.3" cy="945.9" r="11.3" stroke="#000" stroke-width="1" fill="none" stroke-dasharray="5 2"/>
<path d="M1662.9 945.9L1658.6 953.3L1650.0 953.3L1645.7 945.9L1650.0 938.5L1658.6 938.5Z" stroke="#000" stroke-width="2.86" fill="none" />
<path d="M1931.1 601.6L1870.7 601.6A23 24 0 0 1 1847.7 578.0L1847.7 550.0" stroke="#000" stroke-width="6.6" fill="none" />
<circle cx="1889.1" cy="570.1" r="15.0" stroke="#000" stroke-width="5.06" fill="none" />
<circle cx="1889.1" cy="570.1" r="11.3" stroke="#000" stroke-width="1" fill="none" stroke-dasharray="5 2"/>
<path d="M1897.7 570.1L1893.4 577.5L1884.8 577.5L1880.5 570.1L1884.8 562.7L1893.4 562.7Z" stroke="#000" stroke-width="2.86" fill="none" />
<path d="M1931.1 914.4L1870.7 914.4A23 24 0 0 0 1847.7 938.0L1847.7 966.0" stroke="#000" stroke-width="6.6" fill="none" />
<circle cx="1889.1" cy="945.9" r="15.0" stroke="#000" stroke-width="5.06" fill="none" />
<circle cx="1889.1" cy="945.9" r="11.3" stroke="#000" stroke-width="1" fill="none" stroke-dasharray="5 2"/>
<path d="M1897.7 945.9L1893.4 953.3L1884.8 953.3L1880.5 945.9L1884.8 938.5L1893.4 938.5Z" stroke="#000" stroke-width="2.86" fill="none" />
<circle cx="1771.7" cy="758.0" r="87.7" stroke="#000" stroke-width="11.2" fill="none" />
<circle cx="1771.7" cy="758.0" r="70.3" stroke="#000" stroke-width="3.3" fill="none" />
<path d="M1758.4 712.9L1758.4 701.0L1785.0 701.0L1785.0 712.9A47 47 0 1 1 1758.4 712.9Z" stroke="#000" stroke-width="3.3" fill="none" />
<path d="M576.0 758.0L2046.0 758.0" stroke="#000" stroke-width="1.5" stroke-dasharray="40 6 6 6"/>
<path d="M1771.7 483.0L1771.7 1033.0" stroke="#000" stroke-width="1.5" stroke-dasharray="40 6 6 6"/>
<path d="M604.4 226.0L604.4 560.8" stroke="#111" stroke-width="1.5" />
<path d="M1999.5 226.0L1999.5 531.0" stroke="#111" stroke-width="1.5" />
<path d="M604.4 235.4L1999.5 235.4" stroke="#111" stroke-width="1.5" />
<path d="M604.4 235.4L627.4 231.6L627.4 239.2Z" fill="#000" stroke="none"/>
<path d="M1999.5 235.4L1976.5 239.2L1976.5 231.6Z" fill="#000" stroke="none"/>
<path transform="translate(1306.6 229.6)" d="M14.5 0.0L14.5 -29.0L0.0 -9.7L19.3 -9.7M42.0 0.0L42.0 -29.0L27.6 -9.7L46.9 -9.7M74.4 -24.2L69.6 -29.0L59.9 -29.0L55.1 -24.2L55.1 -4.8L59.9 0.0L69.6 0.0L74.4 -4.8L74.4 -9.7L69.6 -14.5L59.9 -14.5L55.1 -9.7" stroke="#222" stroke-width="1.3" fill="none" stroke-linecap="square" stroke-linejoin="miter"/>
<path d="M1544.2 368.7L1544.2 502.0" stroke="#111" stroke-width="1.5" />
<path d="M1544.2 379.6L1999.5 379.6" stroke="#111" stroke-width="1.5" />
<path d="M1544.2 379.6L1567.2 375.8L1567.2 383.4Z" fill="#000" stroke="none"/>
<path d="M1999.5 379.6L1976.5 383.4L1976.5 375.8Z" fill="#000" stroke="none"/>
<path transform="translate(1688.0 373.0)" d="M0.0 -23.8L5.1 -28.6L5.1 0.0M0.0 0.0L10.1 0.0M33.9 0.0L33.9 -28.6L18.7 -9.5L38.9 -9.5M67.8 -28.6L47.5 -28.6L47.5 -16.2L62.7 -16.2L67.8 -11.4L67.8 -4.8L62.7 0.0L52.6 0.0L47.5 -4.8M77.1 0.0L77.1 -2.4M106.7 -28.6L86.5 -28.6L86.5 -16.2L101.6 -16.2L106.7 -11.4L106.7 -4.8L101.6 0.0L91.5 0.0L86.5 -4.8" stroke="#222" stroke-width="1.3" fill="none" stroke-linecap="square" stroke-linejoin="miter"/>
<path d="M1999.0 530.5L2089.0 530.5" stroke="#111" stroke-width="1.5" />
<path d="M1987.0 985.5L2089.0 985.5" stroke="#111" stroke-width="1.5" />
<path d="M2078.8 530.5L2078.8 985.5" stroke="#111" stroke-width="1.5" />
<path d="M2078.8 530.5L2082.6 553.5L2075.0 553.5Z" fill="#000" stroke="none"/>
<path d="M2078.8 985.5L2075.0 962.5L2082.6 962.5Z" fill="#000" stroke="none"/>
<path transform="translate(2073.1 895.3) rotate(-90)" d="M0.0 -24.2L5.3 -29.0L5.3 0.0M0.0 0.0L10.5 0.0M35.2 0.0L35.2 -29.0L19.4 -9.7L40.5 -9.7M70.4 -29.0L49.4 -29.0L49.4 -16.4L65.2 -16.4L70.4 -11.6L70.4 -4.8L65.2 0.0L54.7 0.0L49.4 -4.8M80.2 0.0L80.2 -2.4M110.9 -29.0L89.9 -29.0L89.9 -16.4L105.6 -16.4L110.9 -11.6L110.9 -4.8L105.6 0.0L95.1 0.0L89.9 -4.8" stroke="#222" stroke-width="1.3" fill="none" stroke-linecap="square" stroke-linejoin="miter"/>
<path d="M461.0 495.2L717.0 495.2" stroke="#111" stroke-width="1.5" />
<path d="M461.0 1021.2L724.0 1021.2" stroke="#111" stroke-width="1.5" />
<path d="M471.3 495.2L471.3 1021.2" stroke="#111" stroke-width="1.5" />
<path d="M471.3 495.2L475.1 518.2L467.5 518.2Z" fill="#000" stroke="none"/>
<path d="M471.3 1021.2L467.5 998.2L475.1 998.2Z" fill="#000" stroke="none"/>
<path transform="translate(468.4 833.4) rotate(-90)" d="M5.1 -2.0L15.4 -2.0L20.5 -6.9L20.5 -18.7L15.4 -23.6L5.1 -23.6L0.0 -18.7L0.0 -6.9L5.1 -2.0M2.6 3.0L16.9 -29.5M29.2 -24.6L34.4 -29.5L34.4 0.0M29.2 0.0L39.5 0.0M68.8 -24.6L63.6 -29.5L53.4 -29.5L48.2 -24.6L48.2 -4.9L53.4 0.0L63.6 0.0L68.8 -4.9L68.8 -9.8L63.6 -14.8L53.4 -14.8L48.2 -9.8M82.6 -14.8L77.5 -19.7L77.5 -24.6L82.6 -29.5L92.9 -29.5L98.0 -24.6L98.0 -19.7L92.9 -14.8L82.6 -14.8L77.5 -9.8L77.5 -4.9L82.6 0.0L92.9 0.0L98.0 -4.9L98.0 -9.8L92.9 -14.8" stroke="#222" stroke-width="1.3" fill="none" stroke-linecap="square" stroke-linejoin="miter"/>
<path d="M1615.3 438.0L1565.1 629.5" stroke="#111" stroke-width="1.5" />
<path d="M1586.0 550.9L1587.9 528.6L1595.2 530.5Z" fill="#000" stroke="none"/>
<path d="M1577.2 584.1L1575.3 606.4L1568.0 604.5Z" fill="#000" stroke="none"/>
<path transform="translate(1596.5 496.5) rotate(-75.31094142378164)" d="M4.8 -1.9L14.5 -1.9L19.3 -6.8L19.3 -18.4L14.5 -23.2L4.8 -23.2L0.0 -18.4L0.0 -6.8L4.8 -1.9M2.4 2.9L15.9 -29.0M27.6 -24.2L32.4 -29.0L32.4 0.0M27.6 0.0L37.2 0.0M45.4 -24.2L50.3 -29.0L50.3 0.0M45.4 0.0L55.1 0.0" stroke="#222" stroke-width="1.3" fill="none" stroke-linecap="square" stroke-linejoin="miter"/>
<path d="M1759.4 655.0L1759.4 701.0" stroke="#111" stroke-width="1.5" />
<path d="M1784.6 655.0L1784.6 701.0" stroke="#111" stroke-width="1.5" />
<path d="M1712.4 665.3L1831.6 665.3" stroke="#111" stroke-width="1.5" />
<path d="M1759.4 665.3L1734.9 669.5L1734.9 661.1Z" fill="#000" stroke="none"/>
<path d="M1784.6 665.3L1809.1 661.1L1809.1 669.5Z" fill="#000" stroke="none"/>
<path transform="translate(1762.0 660.0)" d="M4.9 -14.8L0.0 -19.7L0.0 -24.6L4.9 -29.5L14.6 -29.5L19.5 -24.6L19.5 -19.7L14.6 -14.8L4.9 -14.8L0.0 -9.8L0.0 -4.9L4.9 0.0L14.6 0.0L19.5 -4.9L19.5 -9.8L14.6 -14.8" stroke="#222" stroke-width="1.3" fill="none" stroke-linecap="square" stroke-linejoin="miter"/>
<path d="M1632.4 700.6L1749.3 700.6" stroke="#111" stroke-width="1.5" />
<path d="M1632.4 805.3L1757.5 805.3" stroke="#111" stroke-width="1.5" />
<path d="M1642.3 700.6L1642.3 805.3" stroke="#111" stroke-width="1.5" />
<path d="M1642.3 700.6L1646.1 723.6L1638.5 723.6Z" fill="#000" stroke="none"/>
<path d="M1642.3 805.3L1638.5 782.3L1646.1 782.3Z" fill="#000" stroke="none"/>
<path transform="translate(1636.4 796.3) rotate(-90)" d="M0.0 -24.5L4.9 -29.4L14.8 -29.4L19.7 -24.5L19.7 -19.6L14.8 -14.7L19.7 -9.8L19.7 -4.9L14.8 0.0L4.9 0.0L0.0 -4.9M8.9 -14.7L14.8 -14.7M28.1 -24.5L33.0 -29.4L42.9 -29.4L47.8 -24.5L47.8 -19.6L42.9 -14.7L47.8 -9.8L47.8 -4.9L42.9 0.0L33.0 0.0L28.1 -4.9M37.0 -14.7L42.9 -14.7M57.0 0.0L57.0 -2.4M66.1 -24.5L71.0 -29.4L80.9 -29.4L85.8 -24.5L85.8 -19.6L80.9 -14.7L85.8 -9.8L85.8 -4.9L80.9 0.0L71.0 0.0L66.1 -4.9M75.0 -14.7L80.9 -14.7" stroke="#222" stroke-width="1.3" fill="none" stroke-linecap="square" stroke-linejoin="miter"/>
<path d="M1826.9 698.8L1650.3 888.2" stroke="#111" stroke-width="1.5" />
<path d="M1803.8 723.6L1816.0 704.9L1821.5 710.1Z" fill="#000" stroke="none"/>
<path d="M1739.6 792.4L1727.4 811.1L1721.9 805.9Z" fill="#000" stroke="none"/>
<path transform="translate(1655.5 881.0) rotate(-47)" d="M5.0 -2.0L15.0 -2.0L20.0 -7.0L20.0 -19.0L15.0 -24.0L5.0 -24.0L0.0 -19.0L0.0 -7.0L5.0 -2.0M2.5 3.0L16.5 -30.0M28.5 -25.0L33.5 -30.0L43.5 -30.0L48.5 -25.0L48.5 -20.0L43.5 -15.0L48.5 -10.0L48.5 -5.0L43.5 0.0L33.5 0.0L28.5 -5.0M37.5 -15.0L43.5 -15.0M62.0 0.0L67.0 0.0L72.0 -5.0L72.0 -25.0L67.0 -30.0L62.0 -30.0L57.0 -25.0L57.0 -5.0L62.0 0.0" stroke="#222" stroke-width="1.3" fill="none" stroke-linecap="square" stroke-linejoin="miter"/>
<path d="M1782.2 775.2L1808.1 817.5" stroke="#111" stroke-width="1.2" />
<path d="M1808.1 817.5L1802.0 810.7L1804.8 809.0Z" fill="#000" stroke="none"/>
<path transform="translate(1795.0 781.0) rotate(58.5)" d="M1.4 -0.6L4.2 -0.6L5.7 -2.0L5.7 -5.4L4.2 -6.8L1.4 -6.8L0.0 -5.4L0.0 -2.0L1.4 -0.6M0.7 0.8L4.7 -8.5M12.3 0.0L12.3 -8.5L8.1 -2.8L13.7 -2.8M21.8 -8.5L16.2 -8.5L16.2 -4.8L20.4 -4.8L21.8 -3.4L21.8 -1.4L20.4 0.0L17.6 0.0L16.2 -1.4" stroke="#222" stroke-width="1.2" fill="none" stroke-linecap="square" stroke-linejoin="miter"/>
<path d="M1865.7 691.0L1991.6 603.5" stroke="#111" stroke-width="1.5" />
<path d="M1992.5 603.3L1975.8 619.5L1971.4 613.3Z" fill="#000" stroke="none"/>
<path transform="translate(1867.5 681.5) rotate(-34.79914707674265)" d="M5.0 -2.0L15.0 -2.0L20.0 -7.0L20.0 -19.0L15.0 -24.0L5.0 -24.0L0.0 -19.0L0.0 -7.0L5.0 -2.0M2.5 3.0L16.5 -30.0M28.5 -25.0L33.5 -30.0L33.5 0.0M28.5 0.0L38.5 0.0M47.0 -30.0L67.0 -30.0L52.0 0.0M75.5 -25.0L80.5 -30.0L90.5 -30.0L95.5 -25.0L95.5 -20.0L90.5 -15.0L80.5 -15.0L75.5 -10.0L75.5 0.0L95.5 0.0" stroke="#222" stroke-width="1.3" fill="none" stroke-linecap="square" stroke-linejoin="miter"/>
<path d="M1974.0 967.5L2067.7 1105.1L2295.3 1105.1" stroke="#111" stroke-width="1.5" fill="none" />
<path d="M1970.3 962.2L1980.3 972.3L1976.0 975.2Z" fill="#000" stroke="none"/>
<path transform="translate(2070.0 1104.3)" d="M14.0 0.0L14.0 -26.0L0.0 -8.7L18.7 -8.7M26.6 -13.0L45.3 -13.0M57.9 -1.7L67.3 -1.7L71.9 -6.1L71.9 -16.5L67.3 -20.8L57.9 -20.8L53.2 -16.5L53.2 -6.1L57.9 -1.7M55.6 2.6L68.7 -26.0M79.9 -21.7L84.5 -26.0L84.5 0.0M79.9 0.0L89.2 0.0M97.2 -21.7L101.8 -26.0L101.8 0.0M97.2 0.0L106.5 0.0" stroke="#222" stroke-width="1.3" fill="none" stroke-linecap="square" stroke-linejoin="miter"/>
<text fill="#000" stroke="#000" stroke-width="0.7" x="2186" y="1103" font-size="36.5" font-family="Liberation Serif,Noto Serif CJK SC,serif">安装孔</text>
<path transform="translate(2070.0 1148.5)" d="M4.7 -1.8L14.2 -1.8L18.9 -6.4L18.9 -17.4L14.2 -22.0L4.7 -22.0L0.0 -17.4L0.0 -6.4L4.7 -1.8M2.4 2.7L15.6 -27.5M26.9 -22.9L31.6 -27.5L31.6 0.0M26.9 0.0L36.4 0.0M44.4 -27.5L63.3 -27.5L49.1 0.0M71.3 -22.9L76.0 -27.5L85.5 -27.5L90.2 -22.9L90.2 -18.3L85.5 -13.8L76.0 -13.8L71.3 -9.2L71.3 0.0L90.2 0.0M120.4 0.0L120.4 -27.5L134.6 -27.5L139.3 -22.9L139.3 -18.3L134.6 -13.8L120.4 -13.8M148.0 0.0L148.0 -2.3M175.6 -22.9L170.9 -27.5L161.5 -27.5L156.8 -22.9L156.8 -4.6L161.5 0.0L170.9 0.0L175.6 -4.6M184.4 0.0L184.4 -2.3M193.1 0.0L193.1 -27.5L207.3 -27.5L212.0 -22.9L212.0 -4.6L207.3 0.0L193.1 0.0" stroke="#222" stroke-width="1.3" fill="none" stroke-linecap="square" stroke-linejoin="miter"/>
<circle cx="2566.6" cy="758.0" r="261.6" stroke="#000" stroke-width="3.08" fill="none" />
<circle cx="2566.6" cy="758.0" r="257.0" stroke="#000" stroke-width="2.86" fill="none" />
<circle cx="2566.6" cy="758.0" r="251.5" stroke="#000" stroke-width="2.86" fill="none" />
<circle cx="2566.6" cy="758.0" r="247.0" stroke="#000" stroke-width="2.86" fill="none" />
<circle cx="2566.6" cy="758.0" r="196.6" stroke="#000" stroke-width="3.3" fill="none" />
<circle cx="2566.6" cy="758.0" r="179.6" stroke="#000" stroke-width="3.3" fill="none" />
<path d="M2518.0 602.8h17.2v17.2h-17.2zM2598.0 602.8h17.2v17.2h-17.2zM2518.0 896.0h17.2v17.2h-17.2zM2598.0 896.0h17.2v17.2h-17.2zM2544.7 629.5h17.2v17.2h-17.2zM2571.3 629.5h17.2v17.2h-17.2zM2518.0 629.5h17.2v17.2h-17.2zM2598.0 629.5h17.2v17.2h-17.2zM2491.4 629.5h17.2v17.2h-17.2zM2624.6 629.5h17.2v17.2h-17.2zM2464.7 629.5h17.2v17.2h-17.2zM2651.3 629.5h17.2v17.2h-17.2zM2544.7 869.3h17.2v17.2h-17.2zM2571.3 869.3h17.2v17.2h-17.2zM2518.0 869.3h17.2v17.2h-17.2zM2598.0 869.3h17.2v17.2h-17.2zM2491.4 869.3h17.2v17.2h-17.2zM2624.6 869.3h17.2v17.2h-17.2zM2464.7 869.3h17.2v17.2h-17.2zM2651.3 869.3h17.2v17.2h-17.2zM2544.7 656.1h17.2v17.2h-17.2zM2571.3 656.1h17.2v17.2h-17.2zM2518.0 656.1h17.2v17.2h-17.2zM2598.0 656.1h17.2v17.2h-17.2zM2491.4 656.1h17.2v17.2h-17.2zM2624.6 656.1h17.2v17.2h-17.2zM2464.7 656.1h17.2v17.2h-17.2zM2651.3 656.1h17.2v17.2h-17.2zM2438.1 656.1h17.2v17.2h-17.2zM2677.9 656.1h17.2v17.2h-17.2zM2544.7 842.7h17.2v17.2h-17.2zM2571.3 842.7h17.2v17.2h-17.2zM2518.0 842.7h17.2v17.2h-17.2zM2598.0 842.7h17.2v17.2h-17.2zM2491.4 842.7h17.2v17.2h-17.2zM2624.6 842.7h17.2v17.2h-17.2zM2464.7 842.7h17.2v17.2h-17.2zM2651.3 842.7h17.2v17.2h-17.2zM2438.1 842.7h17.2v17.2h-17.2zM2677.9 842.7h17.2v17.2h-17.2zM2544.7 682.8h17.2v17.2h-17.2zM2571.3 682.8h17.2v17.2h-17.2zM2518.0 682.8h17.2v17.2h-17.2zM2598.0 682.8h17.2v17.2h-17.2zM2491.4 682.8h17.2v17.2h-17.2zM2624.6 682.8h17.2v17.2h-17.2zM2464.7 682.8h17.2v17.2h-17.2zM2651.3 682.8h17.2v17.2h-17.2zM2438.1 682.8h17.2v17.2h-17.2zM2677.9 682.8h17.2v17.2h-17.2zM2544.7 816.0h17.2v17.2h-17.2zM2571.3 816.0h17.2v17.2h-17.2zM2518.0 816.0h17.2v17.2h-17.2zM2598.0 816.0h17.2v17.2h-17.2zM2491.4 816.0h17.2v17.2h-17.2zM2624.6 816.0h17.2v17.2h-17.2zM2464.7 816.0h17.2v17.2h-17.2zM2651.3 816.0h17.2v17.2h-17.2zM2438.1 816.0h17.2v17.2h-17.2zM2677.9 816.0h17.2v17.2h-17.2zM2491.4 709.4h17.2v17.2h-17.2zM2624.6 709.4h17.2v17.2h-17.2zM2464.7 709.4h17.2v17.2h-17.2zM2651.3 709.4h17.2v17.2h-17.2zM2438.1 709.4h17.2v17.2h-17.2zM2677.9 709.4h17.2v17.2h-17.2zM2411.4 709.4h17.2v17.2h-17.2zM2704.6 709.4h17.2v17.2h-17.2zM2491.4 789.4h17.2v17.2h-17.2zM2624.6 789.4h17.2v17.2h-17.2zM2464.7 789.4h17.2v17.2h-17.2zM2651.3 789.4h17.2v17.2h-17.2zM2438.1 789.4h17.2v17.2h-17.2zM2677.9 789.4h17.2v17.2h-17.2zM2411.4 789.4h17.2v17.2h-17.2zM2704.6 789.4h17.2v17.2h-17.2zM2491.4 736.1h17.2v17.2h-17.2zM2624.6 736.1h17.2v17.2h-17.2zM2464.7 736.1h17.2v17.2h-17.2zM2651.3 736.1h17.2v17.2h-17.2zM2438.1 736.1h17.2v17.2h-17.2zM2677.9 736.1h17.2v17.2h-17.2zM2491.4 762.7h17.2v17.2h-17.2zM2624.6 762.7h17.2v17.2h-17.2zM2464.7 762.7h17.2v17.2h-17.2zM2651.3 762.7h17.2v17.2h-17.2zM2438.1 762.7h17.2v17.2h-17.2zM2677.9 762.7h17.2v17.2h-17.2z" stroke="#000" stroke-width="3.19" fill="none" />
<circle cx="2566.6" cy="611.4" r="8.7" stroke="#000" stroke-width="3.08" fill="none" />
<circle cx="2566.6" cy="904.6" r="8.7" stroke="#000" stroke-width="3.08" fill="none" />
<circle cx="2419.0" cy="758.0" r="8.7" stroke="#000" stroke-width="3.08" fill="none" />
<circle cx="2714.2" cy="758.0" r="8.7" stroke="#000" stroke-width="3.08" fill="none" />
<circle cx="2566.6" cy="758.0" r="8.7" stroke="#000" stroke-width="3.08" fill="none" />
<path d="M2262.0 758.0L3050.0 758.0" stroke="#000" stroke-width="1.5" stroke-dasharray="40 6 6 6"/>
<path d="M2566.6 484.0L2566.6 1107.0" stroke="#000" stroke-width="1.5" stroke-dasharray="40 5 6 5"/>
<rect x="2439.2" y="375.0" width="255.2" height="126.4" rx="4" stroke="#000" stroke-width="3.3" fill="none" />
<rect x="2488.1" y="368.2" width="163.9" height="6.8" rx="0" stroke="#000" stroke-width="0" fill="#000" />
<rect x="2492.0" y="370.6" width="3.4" height="2.6" rx="0" stroke="#000" stroke-width="0" fill="#fff" />
<rect x="2499.0" y="370.6" width="3.4" height="2.6" rx="0" stroke="#000" stroke-width="0" fill="#fff" />
<rect x="2512.0" y="370.6" width="3.4" height="2.6" rx="0" stroke="#000" stroke-width="0" fill="#fff" />
<rect x="2526.0" y="370.6" width="3.4" height="2.6" rx="0" stroke="#000" stroke-width="0" fill="#fff" />
<rect x="2532.0" y="370.6" width="3.4" height="2.6" rx="0" stroke="#000" stroke-width="0" fill="#fff" />
<rect x="2545.0" y="370.6" width="3.4" height="2.6" rx="0" stroke="#000" stroke-width="0" fill="#fff" />
<rect x="2557.0" y="370.6" width="3.4" height="2.6" rx="0" stroke="#000" stroke-width="0" fill="#fff" />
<rect x="2571.0" y="370.6" width="3.4" height="2.6" rx="0" stroke="#000" stroke-width="0" fill="#fff" />
<rect x="2580.0" y="370.6" width="3.4" height="2.6" rx="0" stroke="#000" stroke-width="0" fill="#fff" />
<rect x="2590.0" y="370.6" width="3.4" height="2.6" rx="0" stroke="#000" stroke-width="0" fill="#fff" />
<rect x="2597.0" y="370.6" width="3.4" height="2.6" rx="0" stroke="#000" stroke-width="0" fill="#fff" />
<rect x="2610.0" y="370.6" width="3.4" height="2.6" rx="0" stroke="#000" stroke-width="0" fill="#fff" />
<rect x="2626.0" y="370.6" width="3.4" height="2.6" rx="0" stroke="#000" stroke-width="0" fill="#fff" />
<rect x="2640.0" y="370.6" width="3.4" height="2.6" rx="0" stroke="#000" stroke-width="0" fill="#fff" />
<path d="M2482.0 382.0L2650.5 382.0" stroke="#000" stroke-width="2.64" />
<path d="M2440.0 410.2L2694.0 410.2" stroke="#000" stroke-width="5.06" />
<path d="M2445.0 376.0L2445.0 500.0" stroke="#000" stroke-width="2.64" />
<path d="M2687.6 376.0L2687.6 500.0" stroke="#000" stroke-width="2.64" />
<path d="M2482.5 375.0L2482.5 400.0L2439.2 400.0" stroke="#000" stroke-width="3.74" fill="none" />
<path d="M2477.2 377.0L2477.2 396.0" stroke="#000" stroke-width="2.42" />
<path d="M2469.2 377.0L2469.2 392.0" stroke="#000" stroke-width="2.2" />
<path d="M2442.2 395.5L2477.2 395.5" stroke="#000" stroke-width="2.42" />
<path d="M2442.2 379.3L2469.2 379.3" stroke="#000" stroke-width="2.2" />
<path d="M2445.2 384.5L2469.2 384.5" stroke="#000" stroke-width="2.2" />
<ellipse cx="2456.2" cy="389.5" rx="9" ry="2.8" fill="none" stroke="#000" stroke-width="2.2"/>
<path d="M2651.1 375.0L2651.1 400.0L2694.4 400.0" stroke="#000" stroke-width="3.74" fill="none" />
<path d="M2656.4 377.0L2656.4 396.0" stroke="#000" stroke-width="2.42" />
<path d="M2664.4 377.0L2664.4 392.0" stroke="#000" stroke-width="2.2" />
<path d="M2691.4 395.5L2656.4 395.5" stroke="#000" stroke-width="2.42" />
<path d="M2691.4 379.3L2664.4 379.3" stroke="#000" stroke-width="2.2" />
<path d="M2688.4 384.5L2664.4 384.5" stroke="#000" stroke-width="2.2" />
<ellipse cx="2677.4" cy="389.5" rx="9" ry="2.8" fill="none" stroke="#000" stroke-width="2.2"/>
<path d="M2537.7 500.0Q2553.7 499.0 2559.7 497.0A38.3 38.3 0 1 1 2573.1 497.0Q2579.1 499.0 2595.1 500.0" stroke="#000" stroke-width="5.94" fill="none" />
<circle cx="2566.4" cy="459.3" r="20.6" stroke="#000" stroke-width="4.4" fill="none" />
<path d="M2459 502Q2462.5 506 2463 512M2470.3 502L2470.3 508M2670.5 502L2670.5 512M2663.5 502L2663.5 510" stroke="#000" stroke-width="2.64" fill="none" />
<path d="M2694 500.6L2780.7 500.6A42 42 0 0 1 2822.7 542.6L2822.7 758" stroke="#000" stroke-width="3.3" fill="none" />
<path d="M2698.5 510.4L2776.6 510.4A36 36 0 0 1 2812.7 546.4L2812.7 626" stroke="#000" stroke-width="3.08" fill="none" />
<path d="M2697.6 501.0L2697.6 510.4" stroke="#000" stroke-width="2.64" />
<path d="M2775.6 501.0L2775.6 510.4" stroke="#000" stroke-width="2.64" />
<path d="M2822.7 529.9L2845.8 529.9" stroke="#000" stroke-width="3.08" />
<path d="M2812.7 547.4L2822.7 547.4" stroke="#000" stroke-width="2.42" />
<path d="M2822.7 553.4L2845.8 553.4" stroke="#000" stroke-width="2.64" />
<path d="M2812.7 626.0L2822.7 626.0" stroke="#000" stroke-width="2.42" />
<path d="M2718.5 524.3L2800.7 608.5" stroke="#000" stroke-width="3.3" />
<path d="M2711.5 533.0L2792.0 616.0" stroke="#000" stroke-width="2.86" />
<path d="M2671 508.5Q2700 514 2718.5 524.3" stroke="#000" stroke-width="2.86" fill="none" />
<path d="M2800.7 608.5Q2814 630 2821 664" stroke="#000" stroke-width="2.86" fill="none" />
<path d="M2792 616Q2806 640 2812 672" stroke="#000" stroke-width="2.64" fill="none" />
<path d="M2707.5 530.5L2714.5 520.5" stroke="#000" stroke-width="4.4" />
<path d="M2789.5 614.5L2799.0 607.0" stroke="#000" stroke-width="4.4" />
<path d="M2694 1015.4L2780.7 1015.4A42 42 0 0 0 2822.7 973.4L2822.7 758.0" stroke="#000" stroke-width="3.3" fill="none" />
<path d="M2698.5 1005.6L2776.6 1005.6A36 36 0 0 0 2812.7 969.6L2812.7 890.0" stroke="#000" stroke-width="3.08" fill="none" />
<path d="M2697.6 1015.0L2697.6 1005.6" stroke="#000" stroke-width="2.64" />
<path d="M2775.6 1015.0L2775.6 1005.6" stroke="#000" stroke-width="2.64" />
<path d="M2822.7 986.1L2845.8 986.1" stroke="#000" stroke-width="3.08" />
<path d="M2812.7 968.6L2822.7 968.6" stroke="#000" stroke-width="2.42" />
<path d="M2822.7 962.6L2845.8 962.6" stroke="#000" stroke-width="2.64" />
<path d="M2812.7 890.0L2822.7 890.0" stroke="#000" stroke-width="2.42" />
<path d="M2718.5 991.7L2800.7 907.5" stroke="#000" stroke-width="3.3" />
<path d="M2711.5 983.0L2792.0 900.0" stroke="#000" stroke-width="2.86" />
<path d="M2671 1007.5Q2700 1002.0 2718.5 991.7" stroke="#000" stroke-width="2.86" fill="none" />
<path d="M2800.7 907.5Q2814 886.0 2821 852.0" stroke="#000" stroke-width="2.86" fill="none" />
<path d="M2792 900.0Q2806 876.0 2812 844.0" stroke="#000" stroke-width="2.64" fill="none" />
<path d="M2707.5 985.5L2714.5 995.5" stroke="#000" stroke-width="4.4" />
<path d="M2789.5 901.5L2799.0 909.0" stroke="#000" stroke-width="4.4" />
<path d="M2694 1015.4L2648 1015.4" stroke="#000" stroke-width="3.3" fill="none" />
<path d="M2845.8 529.9L2845.8 986.1" stroke="#000" stroke-width="3.3" />
<rect x="2844.6" y="670.3" width="7.0" height="176.0" rx="2" stroke="#000" stroke-width="0" fill="#000" />
<rect x="2851.0" y="679.4" width="5.0" height="150.0" rx="0" stroke="#000" stroke-width="0" fill="#000" />
<path d="M2303.7 272.3L2303.7 758.0" stroke="#111" stroke-width="1.5" />
<path d="M2854.4 272.3L2854.4 673.0" stroke="#111" stroke-width="1.5" />
<path d="M2303.7 282.1L2854.4 282.1" stroke="#111" stroke-width="1.5" />
<path d="M2303.7 282.1L2326.7 278.3L2326.7 285.9Z" fill="#000" stroke="none"/>
<path d="M2854.4 282.1L2831.4 285.9L2831.4 278.3Z" fill="#000" stroke="none"/>
<path transform="translate(2540.9 275.9)" d="M0.0 -24.5L5.0 -29.4L5.0 0.0M0.0 0.0L9.9 0.0M18.4 -29.4L38.3 -29.4L23.4 0.0M66.6 -24.5L61.6 -29.4L51.7 -29.4L46.7 -24.5L46.7 -4.9L51.7 0.0L61.6 0.0L66.6 -4.9L66.6 -9.8L61.6 -14.7L51.7 -14.7L46.7 -9.8" stroke="#222" stroke-width="1.3" fill="none" stroke-linecap="square" stroke-linejoin="miter"/>
<path d="M2261.8 369.2L2479.3 369.2" stroke="#111" stroke-width="1.5" />
<path d="M2272.3 369.2L2272.3 757.3" stroke="#111" stroke-width="1.5" />
<path d="M2272.3 369.2L2276.1 392.2L2268.5 392.2Z" fill="#000" stroke="none"/>
<path d="M2272.3 757.3L2268.5 734.3L2276.1 734.3Z" fill="#000" stroke="none"/>
<path transform="translate(2267.6 559.3) rotate(-90)" d="M0.0 -24.2L5.3 -29.0L5.3 0.0M0.0 0.0L10.5 0.0M19.5 -24.2L24.8 -29.0L35.3 -29.0L40.6 -24.2L40.6 -19.3L35.3 -14.5L24.8 -14.5L19.5 -9.7L19.5 0.0L40.6 0.0M70.6 -29.0L49.5 -29.0L49.5 -16.4L65.3 -16.4L70.6 -11.6L70.6 -4.8L65.3 0.0L54.8 0.0L49.5 -4.8" stroke="#222" stroke-width="1.3" fill="none" stroke-linecap="square" stroke-linejoin="miter"/>
<path d="M2265.0 1020.6L2566.0 1020.6" stroke="#111" stroke-width="1.5" />
<path d="M2274.7 758.7L2274.7 1020.6" stroke="#111" stroke-width="1.5" />
<path d="M2274.7 758.7L2278.5 781.7L2270.9 781.7Z" fill="#000" stroke="none"/>
<path d="M2274.7 1020.6L2270.9 997.6L2278.5 997.6Z" fill="#000" stroke="none"/>
<path transform="translate(2269.3 926.6) rotate(-90)" d="M4.8 -14.5L0.0 -19.3L0.0 -24.2L4.8 -29.0L14.5 -29.0L19.4 -24.2L19.4 -19.3L14.5 -14.5L4.8 -14.5L0.0 -9.7L0.0 -4.8L4.8 0.0L14.5 0.0L19.4 -4.8L19.4 -9.7L14.5 -14.5M42.2 0.0L42.2 -29.0L27.6 -9.7L47.0 -9.7" stroke="#222" stroke-width="1.3" fill="none" stroke-linecap="square" stroke-linejoin="miter"/>
<path d="M2857.6 672.4L3014.7 672.4" stroke="#111" stroke-width="1.5" />
<path d="M2857.6 843.7L3014.7 843.7" stroke="#111" stroke-width="1.5" />
<path d="M3005.6 458.1L3005.6 843.7" stroke="#111" stroke-width="1.5" />
<path d="M3005.6 672.4L3009.4 695.4L3001.8 695.4Z" fill="#000" stroke="none"/>
<path d="M3005.6 843.7L3001.8 820.7L3009.4 820.7Z" fill="#000" stroke="none"/>
<path transform="translate(2990.1 643.2) rotate(-90)" d="M5.5 -1.9L16.4 -1.9L21.8 -6.6L21.8 -18.1L16.4 -22.8L5.5 -22.8L0.0 -18.1L0.0 -6.6L5.5 -1.9M2.7 2.9L18.0 -28.5M52.9 -28.5L31.1 -28.5L31.1 -16.1L47.5 -16.1L52.9 -11.4L52.9 -4.8L47.5 0.0L36.5 0.0L31.1 -4.8M84.0 -28.5L62.2 -28.5L62.2 -16.1L78.5 -16.1L84.0 -11.4L84.0 -4.8L78.5 0.0L67.6 0.0L62.2 -4.8" stroke="#222" stroke-width="1.3" fill="none" stroke-linecap="square" stroke-linejoin="miter"/>
<path transform="translate(2973.3 555.5) rotate(-90)" d="M3.4 0.0L6.9 0.0L10.3 -3.4L10.3 -17.2L6.9 -20.7L3.4 -20.7L0.0 -17.2L0.0 -3.4L3.4 0.0" stroke="#222" stroke-width="1.3" fill="none" stroke-linecap="square" stroke-linejoin="miter"/>
<path transform="translate(2999.2 543.5) rotate(-90)" d="M0.0 -9.7L11.8 -9.7M19.8 0.0L22.7 0.0L25.6 -3.2L25.6 -16.2L22.7 -19.4L19.8 -19.4L16.8 -16.2L16.8 -3.2L19.8 0.0M31.1 0.0L31.1 -1.6M39.5 0.0L42.4 0.0L45.4 -3.2L45.4 -16.2L42.4 -19.4L39.5 -19.4L36.6 -16.2L36.6 -3.2L39.5 0.0M50.4 -16.2L53.4 -19.4L59.3 -19.4L62.2 -16.2L62.2 -12.9L59.3 -9.7L62.2 -6.5L62.2 -3.2L59.3 0.0L53.4 0.0L50.4 -3.2M55.7 -9.7L59.3 -9.7M67.2 -16.2L70.2 -19.4L76.1 -19.4L79.0 -16.2L79.0 -12.9L76.1 -9.7L79.0 -6.5L79.0 -3.2L76.1 0.0L70.2 0.0L67.2 -3.2M72.5 -9.7L76.1 -9.7" stroke="#222" stroke-width="1.3" fill="none" stroke-linecap="square" stroke-linejoin="miter"/>
<path d="M2845.0 995.0L2845.0 1107.0" stroke="#111" stroke-width="1.5" />
<path d="M2566.6 1097.0L2845.0 1097.0" stroke="#111" stroke-width="1.5" />
<path d="M2566.6 1097.0L2589.6 1093.2L2589.6 1100.8Z" fill="#000" stroke="none"/>
<path d="M2845.0 1097.0L2822.0 1100.8L2822.0 1093.2Z" fill="#000" stroke="none"/>
<path transform="translate(2613.8 1090.4)" d="M4.9 -14.3L0.0 -19.1L0.0 -23.8L4.9 -28.6L14.8 -28.6L19.7 -23.8L19.7 -19.1L14.8 -14.3L4.9 -14.3L0.0 -9.5L0.0 -4.8L4.9 0.0L14.8 0.0L19.7 -4.8L19.7 -9.5L14.8 -14.3M33.0 -14.3L28.1 -19.1L28.1 -23.8L33.0 -28.6L42.9 -28.6L47.8 -23.8L47.8 -19.1L42.9 -14.3L33.0 -14.3L28.1 -9.5L28.1 -4.8L33.0 0.0L42.9 0.0L47.8 -4.8L47.8 -9.5L42.9 -14.3M56.9 0.0L56.9 -2.4M69.0 0.0L73.9 0.0L85.7 -11.4L85.7 -23.8L80.8 -28.6L71.0 -28.6L66.0 -23.8L66.0 -19.1L71.0 -14.3L85.7 -14.3M113.8 -23.8L108.9 -28.6L99.0 -28.6L94.1 -23.8L94.1 -4.8L99.0 0.0L108.9 0.0L113.8 -4.8L113.8 -9.5L108.9 -14.3L99.0 -14.3L94.1 -9.5M127.1 -14.3L122.2 -19.1L122.2 -23.8L127.1 -28.6L137.0 -28.6L141.9 -23.8L141.9 -19.1L137.0 -14.3L127.1 -14.3L122.2 -9.5L122.2 -4.8L127.1 0.0L137.0 0.0L141.9 -4.8L141.9 -9.5L137.0 -14.3" stroke="#222" stroke-width="1.3" fill="none" stroke-linecap="square" stroke-linejoin="miter"/>
<path d="M603.9 1480.6L603.9 1291.1L605.0 1287.1L609.0 1285.2L613.0 1284.6L647.5 1234.1L650.0 1230.6L654.0 1228.9L710.3 1228.9L714.5 1228.1L716.5 1222.6L718.5 1219.1L722.5 1217.9L727.2 1217.9" stroke="#000" stroke-width="3.3" fill="none" />
<path d="M727.2 1743.3L722.5 1743.3L718.5 1742.1L716.5 1738.6L714.5 1733.1L710.3 1732.3L654.0 1732.3L650.0 1730.6L647.5 1727.1L613.0 1676.6L609.0 1676.0L605.0 1674.1L603.9 1670.1L603.9 1480.6" stroke="#000" stroke-width="3.3" fill="none" />
<path d="M613.0 1284.6L613.0 1676.6" stroke="#000" stroke-width="3.3" />
<path d="M647.0 1235.6L647.0 1725.6" stroke="#000" stroke-width="3.3" />
<path d="M658.0 1228.9L658.0 1732.3" stroke="#000" stroke-width="3.3" />
<path d="M709.0 1228.9L709.0 1732.3" stroke="#000" stroke-width="3.3" />
<path d="M717.6 1221.6L717.6 1739.6" stroke="#000" stroke-width="3.3" />
<path d="M727.2 1217.9L727.2 1743.3" stroke="#000" stroke-width="3.3" />
<path d="M724.0 1217.8L826.0 1217.8" stroke="#000" stroke-width="3.3" />
<path d="M724.0 1743.6L826.0 1743.6" stroke="#000" stroke-width="3.3" />
<path d="M826.0 1217.8L826.0 1352.8" stroke="#000" stroke-width="3.3" />
<path d="M826.0 1608.6L826.0 1743.6" stroke="#000" stroke-width="3.3" />
<path d="M730 1443.6L727 1443.6Q712.6 1444 712.6 1459L712.6 1503Q712.6 1517.6 727 1518L730 1518" stroke="#000" stroke-width="2.86" fill="none" />
<rect x="729.6" y="1440.3" width="36.8" height="81.1" rx="2" stroke="#000" stroke-width="0" fill="#000" />
<rect x="766.0" y="1448.7" width="14.0" height="66.6" rx="0" stroke="#000" stroke-width="0" fill="#000" />
<path d="M736.0 1490.5L764.8 1490.5" stroke="#fff" stroke-width="1.6" />
<rect x="779.4" y="1439.8" width="28.6" height="82.0" rx="0" stroke="#000" stroke-width="3.08" fill="none" />
<path d="M783.4 1439.8L783.4 1521.8" stroke="#000" stroke-width="2.64" />
<path d="M792.6 1439.8L792.6 1521.8" stroke="#000" stroke-width="2.64" />
<path d="M783.4 1451.3L792.6 1451.3" stroke="#000" stroke-width="2.42" />
<path d="M783.4 1493.1L792.6 1493.1" stroke="#000" stroke-width="2.42" />
<path d="M783.4 1514.0L792.6 1514.0" stroke="#000" stroke-width="2.42" />
<rect x="808.0" y="1352.8" width="255.6" height="255.8" rx="5" stroke="#000" stroke-width="4.84" fill="none" />
<path d="M852 1359L1020 1359M852 1602.4L1020 1602.4M815.9 1396L815.9 1565M811.6 1396L811.6 1565M1056.2 1396L1056.2 1565M1060.4 1396L1060.4 1565" stroke="#000" stroke-width="2.64" fill="none" />
<path d="M852 1352.8L852 1374.8Q852 1396.3 830 1396.3L808 1396.3" stroke="#000" stroke-width="3.3" fill="none" />
<path d="M847.5 1356.8L847.5 1374.8Q847.5 1391.8 830 1391.8L812 1391.8" stroke="#000" stroke-width="2.2" fill="none" />
<circle cx="827.0" cy="1371.1" r="12.2" stroke="#000" stroke-width="3.3" fill="none" />
<path d="M821.8 1365.8999999999999L832.2 1376.3M821.8 1376.3L832.2 1365.8999999999999" stroke="#000" stroke-width="5.06" fill="none" stroke-linecap="round"/>
<path d="M852 1608.6L852 1586.6Q852 1565.1 830 1565.1L808 1565.1" stroke="#000" stroke-width="3.3" fill="none" />
<path d="M847.5 1604.6L847.5 1586.6Q847.5 1569.6 830 1569.6L812 1569.6" stroke="#000" stroke-width="2.2" fill="none" />
<circle cx="827.0" cy="1590.3" r="12.2" stroke="#000" stroke-width="3.3" fill="none" />
<path d="M821.8 1585.1L832.2 1595.5M821.8 1595.5L832.2 1585.1" stroke="#000" stroke-width="5.06" fill="none" stroke-linecap="round"/>
<path d="M1019.5999999999999 1352.8L1019.5999999999999 1374.8Q1019.5999999999999 1396.3 1041.6 1396.3L1063.6 1396.3" stroke="#000" stroke-width="3.3" fill="none" />
<path d="M1024.1 1356.8L1024.1 1374.8Q1024.1 1391.8 1041.6 1391.8L1059.6 1391.8" stroke="#000" stroke-width="2.2" fill="none" />
<circle cx="1044.6" cy="1371.1" r="12.2" stroke="#000" stroke-width="3.3" fill="none" />
<path d="M1039.3999999999999 1365.8999999999999L1049.8 1376.3M1039.3999999999999 1376.3L1049.8 1365.8999999999999" stroke="#000" stroke-width="5.06" fill="none" stroke-linecap="round"/>
<path d="M1019.5999999999999 1608.6L1019.5999999999999 1586.6Q1019.5999999999999 1565.1 1041.6 1565.1L1063.6 1565.1" stroke="#000" stroke-width="3.3" fill="none" />
<path d="M1024.1 1604.6L1024.1 1586.6Q1024.1 1569.6 1041.6 1569.6L1059.6 1569.6" stroke="#000" stroke-width="2.2" fill="none" />
<circle cx="1044.6" cy="1590.3" r="12.2" stroke="#000" stroke-width="3.3" fill="none" />
<path d="M1039.3999999999999 1585.1L1049.8 1595.5M1039.3999999999999 1595.5L1049.8 1585.1" stroke="#000" stroke-width="5.06" fill="none" stroke-linecap="round"/>
<text transform="translate(933.3 1418.4) rotate(90)" font-size="70" font-family="Liberation Sans,sans-serif" fill="#fff" stroke="#000" stroke-width="2.8" textLength="126" lengthAdjust="spacingAndGlyphs">ZHB</text>
<text transform="translate(880 1402.1) rotate(90)" font-size="35" font-weight="bold" font-family="Liberation Sans,sans-serif" fill="#000" stroke="#000" stroke-width="1.8" textLength="164.5" lengthAdjust="spacingAndGlyphs">CHENG BANG</text>
<path d="M1064.0 1378.8L1293.0 1378.8" stroke="#000" stroke-width="4.84" />
<path d="M1064.0 1582.4L1293.0 1582.4" stroke="#000" stroke-width="4.84" />
<path d="M1263.4 1379.5Q1304 1480.6 1263.4 1581.7" stroke="#000" stroke-width="2.86" fill="none" />
<path d="M1285.6 1379.0L1285.6 1582.0" stroke="#000" stroke-width="2.42" />
<path d="M826.6 1617.7L1293.0 1617.7" stroke="#000" stroke-width="3.1" />
<path d="M1283 1625.4L844.3 1625.4L836 1620" stroke="#000" stroke-width="3.2" fill="none" />
<path d="M841.5 1625.0L841.5 1639.4" stroke="#000" stroke-width="6.0" />
<path d="M838.3 1639.4L1286.0 1639.4" stroke="#000" stroke-width="3.4" />
<path d="M826.6 1627.4L838.3 1627.4" stroke="#000" stroke-width="2.42" />
<path d="M826.6 1631.2L838.3 1631.2" stroke="#000" stroke-width="2.42" />
<path d="M833.5 1650.2L1286.0 1650.2" stroke="#000" stroke-width="6.0" />
<path d="M833.5 1663.2L1286.0 1663.2" stroke="#000" stroke-width="3.5" />
<path d="M833.5 1673.1L1286.0 1673.1" stroke="#000" stroke-width="6.5" />
<path d="M833.5 1683.9L1286.0 1683.9" stroke="#000" stroke-width="3.5" />
<path d="M833.5 1691.6L1286.0 1691.6" stroke="#000" stroke-width="6.9" />
<path d="M835.2 1647.2L835.2 1665.0" stroke="#000" stroke-width="3.5" />
<path d="M835.2 1670.0L835.2 1686.0" stroke="#000" stroke-width="3.5" />
<path d="M835.2 1688.0L835.2 1700.0" stroke="#000" stroke-width="3.5" />
<path d="M835.0 1698.1L1286.0 1698.1L1286.0 1708.0L1276.0 1719.7L842.6 1719.7L833.5 1709.8Z" stroke="#000" stroke-width="0" fill="#000" />
<path d="M844.0 1712.3L1279.0 1712.3" stroke="#fff" stroke-width="1.3" />
<rect x="1286.0" y="1701.2" width="7.3" height="7.4" rx="0" stroke="#000" stroke-width="0" fill="#000" />
<path d="M826.6 1654.0L834.0 1654.0" stroke="#000" stroke-width="2.42" />
<path d="M826.6 1660.6L834.0 1660.6" stroke="#000" stroke-width="2.42" />
<path d="M826.6 1676.0L834.0 1676.0" stroke="#000" stroke-width="2.42" />
<path d="M826.6 1682.0L834.0 1682.0" stroke="#000" stroke-width="2.42" />
<path d="M826.6 1692.5L834.0 1692.5" stroke="#000" stroke-width="2.42" />
<path d="M826.6 1696.4L834.0 1696.4" stroke="#000" stroke-width="2.42" />
<path d="M826.6 1702.0L834.0 1702.0" stroke="#000" stroke-width="2.42" />
<path d="M826.6 1707.0L834.0 1707.0" stroke="#000" stroke-width="2.42" />
<path d="M1283 1625.4L1287 1628L1287 1635L1283 1639.4" stroke="#000" stroke-width="2.64" fill="none" />
<path d="M1286.0 1646.0L1286.0 1700.0" stroke="#000" stroke-width="2.86" />
<path d="M1286.0 1629.0L1293.5 1629.0" stroke="#000" stroke-width="2.2" />
<path d="M1286.0 1633.0L1293.5 1633.0" stroke="#000" stroke-width="2.2" />
<path d="M1286.0 1652.0L1293.5 1652.0" stroke="#000" stroke-width="2.2" />
<path d="M1286.0 1660.0L1293.5 1660.0" stroke="#000" stroke-width="2.2" />
<path d="M1286.0 1675.0L1293.5 1675.0" stroke="#000" stroke-width="2.2" />
<path d="M1286.0 1682.0L1293.5 1682.0" stroke="#000" stroke-width="2.2" />
<path d="M1286.0 1693.0L1293.5 1693.0" stroke="#000" stroke-width="2.2" />
<path d="M1286.0 1702.0L1293.5 1702.0" stroke="#000" stroke-width="2.2" />
<path d="M843.5 1241.0L1276.7 1241.0L1286.9 1251.0L1286.9 1255.6L836.0 1255.6L833.5 1252.6Z" stroke="#000" stroke-width="0" fill="#000" />
<path d="M846.0 1250.5L1284.0 1250.5" stroke="#fff" stroke-width="1.0" />
<rect x="1286.0" y="1253.8" width="7.3" height="6.5" rx="0" stroke="#000" stroke-width="0" fill="#000" />
<path d="M836.0 1260.6L1285.0 1260.6" stroke="#000" stroke-width="3.0" />
<path d="M836.0 1264.4L1286.0 1264.4" stroke="#000" stroke-width="2.5" />
<path d="M826.6 1269.8L1293.3 1269.8" stroke="#000" stroke-width="4.3" />
<path d="M1280.0 1257.0L1287.5 1268.0" stroke="#000" stroke-width="3.2" />
<path d="M826.6 1283.0L1293.3 1283.0" stroke="#000" stroke-width="9.1" />
<path d="M842.4 1292.0L1277.0 1292.0" stroke="#000" stroke-width="3.9" />
<path d="M842.4 1292.0L842.4 1303.0" stroke="#000" stroke-width="4.8" />
<path d="M826.6 1306.3L1293.3 1306.3" stroke="#000" stroke-width="8.2" />
<path d="M842.4 1320.1L1277.0 1320.1" stroke="#000" stroke-width="3.9" />
<path d="M842.4 1320.0L842.4 1334.0" stroke="#000" stroke-width="4.8" />
<path d="M826.6 1335.9L1293.3 1335.9" stroke="#000" stroke-width="6.0" />
<path d="M842.0 1296.0L834.0 1303.0" stroke="#000" stroke-width="2.64" />
<path d="M842.0 1325.0L834.0 1333.0" stroke="#000" stroke-width="2.64" />
<path d="M1276.6 1272.0L1276.6 1279.0" stroke="#000" stroke-width="2.8" />
<path d="M1277 1272Q1281 1273 1282 1277L1287.5 1279" stroke="#000" stroke-width="3.4" fill="none" />
<path d="M1276.6 1292.0L1276.6 1302.5" stroke="#000" stroke-width="2.8" />
<path d="M1277 1292Q1281 1293 1282 1297L1287.5 1302.5" stroke="#000" stroke-width="3.4" fill="none" />
<path d="M1276.6 1320.1L1276.6 1333.0" stroke="#000" stroke-width="2.8" />
<path d="M1277 1320.1Q1281 1321.1 1282 1325.1L1287.5 1333" stroke="#000" stroke-width="3.4" fill="none" />
<path d="M826.0 1258.0L836.0 1258.0" stroke="#000" stroke-width="2.2" />
<path d="M826.0 1276.0L836.0 1276.0" stroke="#000" stroke-width="2.2" />
<path d="M826.0 1300.0L836.0 1300.0" stroke="#000" stroke-width="2.2" />
<path d="M826.0 1328.0L836.0 1328.0" stroke="#000" stroke-width="2.2" />
<path d="M836 1255L836 1283" stroke="#000" stroke-width="2.42" fill="none" />
<path d="M1287.0 1331.0L1293.3 1331.0" stroke="#000" stroke-width="2.2" />
<path d="M1300 1228.7L1297 1228.7Q1295 1228.7 1295 1231L1295 1730.1999999999998Q1295 1732.4999999999998 1297 1732.4999999999998L1300 1732.4999999999998" stroke="#000" stroke-width="3.63" fill="none" />
<rect x="1301.2" y="1218.2" width="30.5" height="525.0" rx="3" stroke="#000" stroke-width="4.51" fill="none" />
<path d="M1333 1224L1536 1224Q1544.9 1224 1544.9 1233L1544.9 1731" stroke="#000" stroke-width="3.3" fill="none" />
<path d="M1532.6 1224.0L1532.6 1731.0" stroke="#000" stroke-width="3.08" />
<path d="M1333.0 1259.2L1532.6 1259.2" stroke="#000" stroke-width="4.84" />
<path d="M1333.0 1339.5L1532.6 1339.5" stroke="#000" stroke-width="4.84" />
<path d="M1333.0 1423.4L1532.6 1423.4" stroke="#000" stroke-width="5.28" />
<path d="M1333.0 1702.2L1497.0 1702.2" stroke="#000" stroke-width="5.06" />
<path d="M1333.0 1621.2L1497.0 1621.2" stroke="#000" stroke-width="4.62" />
<path d="M1333.0 1537.0L1494.0 1537.0" stroke="#000" stroke-width="5.06" />
<path d="M1333.0 1736.2L1537.0 1736.2" stroke="#000" stroke-width="3.3" />
<path d="M1491.0 1736.2L1491.0 1536.2" stroke="#000" stroke-width="5.5" />
<path d="M1507.7 1736.2L1507.7 1598.2" stroke="#000" stroke-width="2.86" />
<path d="M1517.6 1736.2L1517.6 1610.7" stroke="#000" stroke-width="2.86" />
<path d="M1517.6 1610.6999999999998Q1516 1558.1999999999998 1494 1535.1999999999998" stroke="#000" stroke-width="3.08" fill="none" />
<path d="M1507.7 1598.1999999999998Q1506 1558.1999999999998 1494 1537.1999999999998" stroke="#000" stroke-width="2.64" fill="none" />
<path d="M1497 1702.1999999999998Q1507 1703.1999999999998 1507.5 1716.1999999999998" stroke="#000" stroke-width="2.86" fill="none" />
<path d="M1497 1621.1999999999998Q1507 1622.1999999999998 1507.5 1634.1999999999998" stroke="#000" stroke-width="2.86" fill="none" />
<path d="M1507.7 1611.2L1517.6 1611.2" stroke="#000" stroke-width="2.42" />
<path d="M1507.7 1691.6L1544.4 1691.6" stroke="#000" stroke-width="2.64" />
<path d="M1532.6 1731Q1533 1737 1527 1737M1544.9 1722Q1544.5 1731 1537 1736" stroke="#000" stroke-width="2.64" fill="none" />
<path d="M1544.4 1733.4L1566.6 1733.4L1566.6 1759.0" stroke="#000" stroke-width="3.3" fill="none" />
<path d="M1545.3 1242.7L1626.0 1337.0" stroke="#000" stroke-width="3.3" />
<path d="M1549.6 1250.7L1624.8 1350.6" stroke="#000" stroke-width="3.08" />
<path d="M1549.6 1259.3L1622.3 1345.6" stroke="#000" stroke-width="2.2" />
<path d="M1545.3 1284.0L1626.0 1371.5" stroke="#000" stroke-width="3.3" />
<path d="M1546.5 1286.3L1627.3 1382.6" stroke="#000" stroke-width="3.08" />
<path d="M1550.2 1250.7L1550.2 1286.4" stroke="#000" stroke-width="2.64" />
<path d="M1565.6 1309.0L1565.6 1630.0" stroke="#000" stroke-width="3.3" />
<path d="M1577.0 1392.0L1577.0 1630.0" stroke="#000" stroke-width="2.86" />
<path d="M1582.6 1392.0L1582.6 1630.0" stroke="#000" stroke-width="2.86" />
<path d="M1532.6 1259.2L1537 1259.2Q1543 1260 1544 1266M1532.6 1339.5L1537 1339.5Q1543 1340.3 1544 1346M1532.6 1423.4L1544 1423.4" stroke="#000" stroke-width="2.86" fill="none" />
<rect x="1626.7" y="1327.2" width="290.6" height="62.7" rx="0" stroke="#000" stroke-width="3.3" fill="none" />
<path d="M1671.2 1327.2L1671.2 1389.9" stroke="#000" stroke-width="3.3" />
<path d="M1872.4 1327.2L1872.4 1389.9" stroke="#000" stroke-width="3.3" />
<path d="M1690.8 1327.2L1690.8 1383Q1690 1388 1686 1389.5M1852.8 1327.2L1852.8 1383Q1853.5 1388 1858 1389.5" stroke="#000" stroke-width="3.96" fill="none" />
<path d="M1690.8 1333.4L1852.8 1333.4" stroke="#000" stroke-width="2.86" />
<path d="M1690.8 1380.8L1852.8 1380.8" stroke="#000" stroke-width="3.08" />
<path d="M1577.1 1630L1577.1 1391Q1577.1 1383.4 1586 1383.4L1626.7 1383.4" stroke="#000" stroke-width="3.08" fill="none" />
<path d="M1580.0 1391.6L2000.4 1391.6" stroke="#000" stroke-width="5.94" />
<path d="M2000.4 1389.0L2000.4 1759.5" stroke="#000" stroke-width="3.52" />
<rect x="1930.7" y="1384.4" width="43.6" height="5.0" rx="0" stroke="#000" stroke-width="2.42" fill="none" />
<path d="M1544.4 1634.2L1690.0 1634.2" stroke="#000" stroke-width="8.2" />
<path d="M1854.0 1634.2L2000.4 1634.2" stroke="#000" stroke-width="8.2" />
<path d="M1544.4 1731.0L1544.4 1759.5" stroke="#000" stroke-width="3.3" />
<path d="M1543.0 1759.3L1701.5 1759.3" stroke="#000" stroke-width="3.52" />
<path d="M1842.3 1759.3L2001.8 1759.3" stroke="#000" stroke-width="3.52" />
<path d="M1552.3 1638.0L1552.3 1700.0" stroke="#000" stroke-width="3.08" />
<path d="M1581.5 1638.0L1581.5 1700.0" stroke="#000" stroke-width="3.08" />
<path d="M1618.9 1638.0L1618.9 1700.0" stroke="#000" stroke-width="3.08" />
<path d="M1641.1 1638.0L1641.1 1700.0" stroke="#000" stroke-width="3.08" />
<path d="M1903.7 1638.0L1903.7 1700.0" stroke="#000" stroke-width="3.08" />
<path d="M1924.6 1638.0L1924.6 1700.0" stroke="#000" stroke-width="3.08" />
<path d="M1962.0 1638.0L1962.0 1700.0" stroke="#000" stroke-width="3.08" />
<path d="M1978.2 1638.0L1978.2 1700.0" stroke="#000" stroke-width="3.08" />
<path d="M1544.4 1696.4L1637.0 1696.4" stroke="#000" stroke-width="2.64" />
<path d="M1544.4 1701.5L1641.1 1701.5" stroke="#000" stroke-width="3.08" />
<path d="M1637 1696.4L1641 1694" stroke="#000" stroke-width="2.2" fill="none" />
<path d="M1908.0 1696.4L2000.4 1696.4" stroke="#000" stroke-width="2.64" />
<path d="M1903.7 1701.5L2000.4 1701.5" stroke="#000" stroke-width="3.08" />
<path d="M1908 1696.4L1904 1694" stroke="#000" stroke-width="2.2" fill="none" />
<path d="M1978.2 1700.0L1978.2 1759.5" stroke="#000" stroke-width="2.64" />
<path d="M1690.2 1581.5L1690.2 1660.7L1701.7 1660.7L1701.7 1768.7L1842.3 1768.7L1842.3 1660.7L1854.1 1660.7L1854.1 1570" stroke="#000" stroke-width="3.3" fill="none" />
<path d="M1724.7 1562.0L1724.7 1768.7" stroke="#000" stroke-width="4.4" />
<path d="M1818.8 1597.0L1818.8 1768.7" stroke="#000" stroke-width="4.4" />
<path d="M1690.2 1581.3C1710 1566 1725 1556 1737 1557C1760 1558 1775 1580 1790 1591C1805 1600 1820 1596 1830 1589L1854.1 1570" stroke="#000" stroke-width="3.3" fill="none" />
<path d="M1692.0 1584.5L1706.9 1569.6M1692.0 1598.8L1722.7 1568.1M1692.0 1613.1L1722.7 1582.4M1692.0 1627.4L1722.7 1596.7M1692.0 1641.7L1722.7 1611.0M1692.0 1656.0L1722.7 1625.3M1701.6 1660.7L1722.7 1639.6M1715.9 1660.7L1722.7 1653.9M1703.5 1673.1L1715.9 1660.7M1703.5 1687.4L1722.7 1668.2M1703.5 1701.7L1722.7 1682.5M1703.5 1716.0L1722.7 1696.8M1703.5 1730.3L1722.7 1711.1M1703.5 1744.6L1722.7 1725.4M1703.5 1758.9L1722.7 1739.7M1709.7 1767.0L1722.7 1754.0M1820.8 1605.7L1852.3 1574.2M1820.8 1620.0L1852.3 1588.5M1820.8 1634.3L1852.3 1602.8M1820.8 1648.6L1852.3 1617.1M1823.0 1660.7L1852.3 1631.4M1837.3 1660.7L1852.3 1645.7M1851.6 1660.7L1852.3 1660.0M1820.8 1662.9L1823.0 1660.7M1820.8 1677.2L1837.3 1660.7M1820.8 1691.5L1840.5 1671.8M1820.8 1705.8L1840.5 1686.1M1820.8 1720.1L1840.5 1700.4M1820.8 1734.4L1840.5 1714.7M1820.8 1748.7L1840.5 1729.0M1820.8 1763.0L1840.5 1743.3M1831.1 1767.0L1840.5 1757.6" stroke="#111" stroke-width="1.3" fill="none" />
<path d="M1701.7 1759.6L1687 1759.6Q1685 1765 1690 1766L1701.7 1766M1842.3 1759.6L1857 1759.6Q1859 1765 1854 1766L1842.3 1766" stroke="#000" stroke-width="2.42" fill="none" />
<path d="M604.0 1480.6L1523.4 1480.6" stroke="#000" stroke-width="1.5" stroke-dasharray="40 6 6 6"/>
<path d="M1771.8 1286.7L1771.8 1802.6" stroke="#000" stroke-width="1.5" stroke-dasharray="40 6 6 6"/>
<path d="M513.2 1218.2L717.8 1218.2" stroke="#111" stroke-width="1.5" />
<path d="M513.2 1743.9L717.8 1743.9" stroke="#111" stroke-width="1.5" />
<path d="M523.1 1218.2L523.1 1743.9" stroke="#111" stroke-width="1.5" />
<path d="M523.1 1218.2L526.9 1241.2L519.3 1241.2Z" fill="#000" stroke="none"/>
<path d="M523.1 1743.9L519.3 1720.9L526.9 1720.9Z" fill="#000" stroke="none"/>
<path transform="translate(517.9 1527.1) rotate(-90)" d="M5.2 -2.0L15.7 -2.0L20.9 -6.9L20.9 -18.7L15.7 -23.6L5.2 -23.6L0.0 -18.7L0.0 -6.9L5.2 -2.0M2.6 3.0L17.3 -29.5M29.8 -24.6L35.1 -29.5L35.1 0.0M29.8 0.0L40.3 0.0M70.2 -24.6L64.9 -29.5L54.5 -29.5L49.2 -24.6L49.2 -4.9L54.5 0.0L64.9 0.0L70.2 -4.9L70.2 -9.8L64.9 -14.8L54.5 -14.8L49.2 -9.8M84.3 -14.8L79.1 -19.7L79.1 -24.6L84.3 -29.5L94.8 -29.5L100.0 -24.6L100.0 -19.7L94.8 -14.8L84.3 -14.8L79.1 -9.8L79.1 -4.9L84.3 0.0L94.8 0.0L100.0 -4.9L100.0 -9.8L94.8 -14.8" stroke="#222" stroke-width="1.3" fill="none" stroke-linecap="square" stroke-linejoin="miter"/>
<path d="M1724.6 1777.8L1724.6 1868.8" stroke="#111" stroke-width="1.5" />
<path d="M1818.2 1777.8L1818.2 1868.8" stroke="#111" stroke-width="1.5" />
<path d="M1446.5 1859.3L1818.2 1859.3" stroke="#111" stroke-width="1.5" />
<path d="M1724.6 1859.3L1747.6 1855.5L1747.6 1863.1Z" fill="#000" stroke="none"/>
<path d="M1818.2 1859.3L1795.2 1863.1L1795.2 1855.5Z" fill="#000" stroke="none"/>
<path transform="translate(1452.5 1844.8)" d="M5.0 -2.0L15.0 -2.0L19.9 -6.9L19.9 -18.7L15.0 -23.6L5.0 -23.6L0.0 -18.7L0.0 -6.9L5.0 -2.0M2.5 3.0L16.5 -29.5M28.4 -24.6L33.4 -29.5L43.4 -29.5L48.4 -24.6L48.4 -19.7L43.4 -14.8L48.4 -9.8L48.4 -4.9L43.4 0.0L33.4 0.0L28.4 -4.9M37.4 -14.8L43.4 -14.8M61.8 0.0L66.8 0.0L71.8 -4.9L71.8 -24.6L66.8 -29.5L61.8 -29.5L56.8 -24.6L56.8 -4.9L61.8 0.0" stroke="#222" stroke-width="1.3" fill="none" stroke-linecap="square" stroke-linejoin="miter"/>
<path transform="translate(1533.3 1826.6)" d="M0.0 -9.8L13.8 -9.8M6.9 -3.3L6.9 -16.3M23.2 0.0L26.6 0.0L30.1 -3.3L30.1 -16.3L26.6 -19.6L23.2 -19.6L19.7 -16.3L19.7 -3.3L23.2 0.0M36.5 0.0L36.5 -1.6M46.4 0.0L49.8 0.0L53.3 -3.3L53.3 -16.3L49.8 -19.6L46.4 -19.6L42.9 -16.3L42.9 -3.3L46.4 0.0M59.1 -16.3L62.6 -19.6L69.5 -19.6L73.0 -16.3L73.0 -13.1L69.5 -9.8L73.0 -6.5L73.0 -3.3L69.5 0.0L62.6 0.0L59.1 -3.3M65.4 -9.8L69.5 -9.8M78.9 -16.3L82.3 -19.6L89.2 -19.6L92.7 -16.3L92.7 -13.1L89.2 -9.8L92.7 -6.5L92.7 -3.3L89.2 0.0L82.3 0.0L78.9 -3.3M85.1 -9.8L89.2 -9.8" stroke="#222" stroke-width="1.3" fill="none" stroke-linecap="square" stroke-linejoin="miter"/>
<path transform="translate(1532.8 1852.6)" d="M3.2 0.0L6.3 0.0L9.5 -3.2L9.5 -15.8L6.3 -19.0L3.2 -19.0L0.0 -15.8L0.0 -3.2L3.2 0.0" stroke="#222" stroke-width="1.3" fill="none" stroke-linecap="square" stroke-linejoin="miter"/>
<path d="M1685.4 1772.0L1685.4 1973.9" stroke="#111" stroke-width="1.5" />
<path d="M1857.4 1772.0L1857.4 1973.9" stroke="#111" stroke-width="1.5" />
<path d="M1472.6 1964.5L1857.4 1964.5" stroke="#111" stroke-width="1.5" />
<path d="M1685.4 1964.5L1708.4 1960.7L1708.4 1968.3Z" fill="#000" stroke="none"/>
<path d="M1857.4 1964.5L1834.4 1968.3L1834.4 1960.7Z" fill="#000" stroke="none"/>
<path transform="translate(1478.4 1949.3)" d="M5.0 -2.0L15.0 -2.0L20.0 -6.9L20.0 -18.7L15.0 -23.6L5.0 -23.6L0.0 -18.7L0.0 -6.9L5.0 -2.0M2.5 3.0L16.5 -29.5M48.6 -29.5L28.5 -29.5L28.5 -16.7L43.6 -16.7L48.6 -11.8L48.6 -4.9L43.6 0.0L33.5 0.0L28.5 -4.9M77.1 -29.5L57.1 -29.5L57.1 -16.7L72.1 -16.7L77.1 -11.8L77.1 -4.9L72.1 0.0L62.1 0.0L57.1 -4.9" stroke="#222" stroke-width="1.3" fill="none" stroke-linecap="square" stroke-linejoin="miter"/>
<path transform="translate(1562.5 1931.6)" d="M3.3 0.0L6.5 0.0L9.8 -3.3L9.8 -16.3L6.5 -19.6L3.3 -19.6L0.0 -16.3L0.0 -3.3L3.3 0.0" stroke="#222" stroke-width="1.3" fill="none" stroke-linecap="square" stroke-linejoin="miter"/>
<path transform="translate(1563.3 1957.7)" d="M0.0 -9.8L13.9 -9.8M23.2 0.0L26.7 0.0L30.1 -3.3L30.1 -16.3L26.7 -19.6L23.2 -19.6L19.7 -16.3L19.7 -3.3L23.2 0.0M36.5 0.0L36.5 -1.6M46.4 0.0L49.9 0.0L53.3 -3.3L53.3 -16.3L49.9 -19.6L46.4 -19.6L42.9 -16.3L42.9 -3.3L46.4 0.0M59.2 -16.3L62.7 -19.6L69.6 -19.6L73.1 -16.3L73.1 -13.1L69.6 -9.8L73.1 -6.5L73.1 -3.3L69.6 0.0L62.7 0.0L59.2 -3.3M65.4 -9.8L69.6 -9.8M78.9 -16.3L82.4 -19.6L89.3 -19.6L92.8 -16.3L92.8 -13.1L89.3 -9.8L92.8 -6.5L92.8 -3.3L89.3 0.0L82.4 0.0L78.9 -3.3M85.2 -9.8L89.3 -9.8" stroke="#222" stroke-width="1.3" fill="none" stroke-linecap="square" stroke-linejoin="miter"/>
<path d="M1907.7 1712.0L1907.7 1844.4" stroke="#111" stroke-width="1.5" />
<path d="M1965.2 1712.0L1965.2 1847.8" stroke="#111" stroke-width="1.5" />
<path d="M1907.7 1759.5L1903.9 1736.5L1911.5 1736.5Z" fill="#000" stroke="none"/>
<path d="M1907.7 1765.3L1911.5 1788.3L1903.9 1788.3Z" fill="#000" stroke="none"/>
<path d="M1965.2 1759.5L1961.4 1736.5L1969.0 1736.5Z" fill="#000" stroke="none"/>
<path d="M1965.2 1768.7L1969.0 1791.7L1961.4 1791.7Z" fill="#000" stroke="none"/>
<path d="M1864.5 1765.3L1918.1 1765.3" stroke="#111" stroke-width="1.5" />
<path d="M1847.6 1768.7L1974.3 1768.7" stroke="#111" stroke-width="1.5" />
<path transform="translate(1901.1 1837.9) rotate(-90)" d="M0.0 -23.3L4.7 -28.0L14.0 -28.0L18.7 -23.3L18.7 -18.7L14.0 -14.0L4.7 -14.0L0.0 -9.3L0.0 0.0L18.7 0.0" stroke="#222" stroke-width="1.3" fill="none" stroke-linecap="square" stroke-linejoin="miter"/>
<path transform="translate(1958.6 1839.6) rotate(-90)" d="M0.0 -23.3L4.7 -28.0L14.0 -28.0L18.7 -23.3L18.7 -18.7L14.0 -14.0L18.7 -9.3L18.7 -4.7L14.0 0.0L4.7 0.0L0.0 -4.7M8.4 -14.0L14.0 -14.0" stroke="#222" stroke-width="1.3" fill="none" stroke-linecap="square" stroke-linejoin="miter"/>
</svg></body></html>
